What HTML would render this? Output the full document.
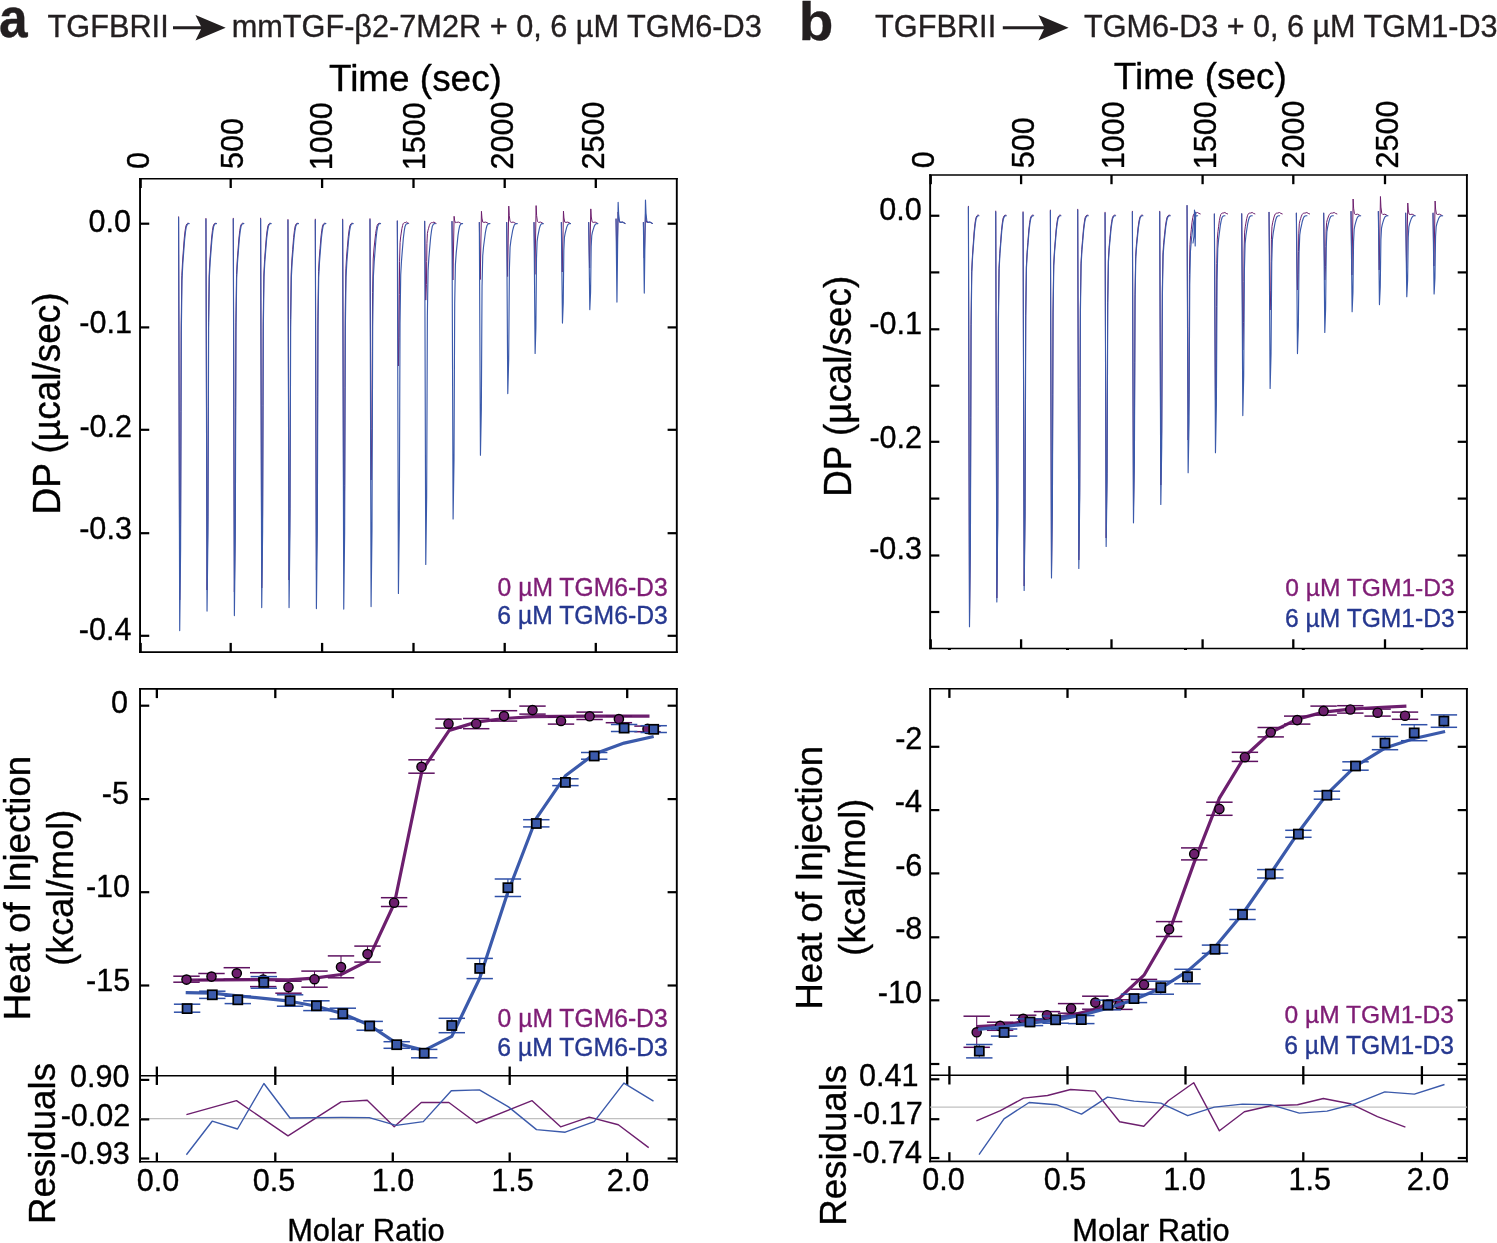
<!DOCTYPE html>
<html lang="en">
<head>
<meta charset="utf-8">
<title>ITC competition binding figure</title>
<style>
html,body{margin:0;padding:0;background:#fff;}
body{width:1497px;height:1243px;overflow:hidden;}
svg{display:block;}
text{font-family:"Liberation Sans",Arial,Helvetica,sans-serif;stroke-width:0.35px;stroke-linejoin:round;}
</style>
</head>
<body>
<svg width="1497" height="1243" viewBox="0 0 1497 1243" font-family="'Liberation Sans', Arial, Helvetica, sans-serif">
<rect width="1497" height="1243" fill="#fff"/>
<text transform="translate(-0.94,37.34) scale(0.97,1.05)" font-size="53" font-weight="bold" fill="#231f20" stroke="#231f20">a</text>
<text transform="translate(47.61,36.9) scale(1,1.03)" font-size="30.7" fill="#231f20" stroke="#231f20">TGFBRII</text>
<text transform="translate(231.63,36.9) scale(1,1.03)" font-size="30.7" fill="#231f20" stroke="#231f20">mmTGF-β2-7M2R + 0, 6 µM TGM6-D3</text>
<text transform="translate(798.71,39.56) scale(1.07,1.01)" font-size="53" font-weight="bold" fill="#231f20" stroke="#231f20">b</text>
<text transform="translate(875.11,36.9) scale(1,1.03)" font-size="30.7" fill="#231f20" stroke="#231f20">TGFBRII</text>
<text transform="translate(1084.11,36.9) scale(1,1.03)" font-size="30.56" fill="#231f20" stroke="#231f20">TGM6-D3 + 0, 6 µM TGM1-D3</text>
<line x1="173" y1="27.7" x2="211.7" y2="27.7" stroke="#231f20" stroke-width="3"/>
<path d="M225.7,27.7 L195.5,14.9 L201.7,27.7 L195.5,40.5 Z" fill="#231f20"/>
<line x1="1002.8" y1="27.7" x2="1054.6" y2="27.7" stroke="#231f20" stroke-width="3"/>
<path d="M1068.6,27.7 L1038.4,14.9 L1044.6,27.7 L1038.4,40.5 Z" fill="#231f20"/>
<text transform="translate(328.97,90.5) scale(1,1)" font-size="36.91" stroke="#000">Time (sec)</text>
<text transform="translate(1113.77,89) scale(1,1)" font-size="36.91" stroke="#000">Time (sec)</text>
<line x1="139.1" y1="178.8" x2="677.75" y2="178.8" stroke="#000" stroke-width="1.6"/>
<line x1="139.1" y1="652.1" x2="677.75" y2="652.1" stroke="#000" stroke-width="1.6"/>
<line x1="140.05" y1="178" x2="140.05" y2="652.9" stroke="#000" stroke-width="1.9"/>
<line x1="676.8" y1="178" x2="676.8" y2="652.9" stroke="#000" stroke-width="1.9"/>
<line x1="140.65" y1="178.8" x2="140.65" y2="188" stroke="#000" stroke-width="2.3"/>
<line x1="140.65" y1="652.1" x2="140.65" y2="642.9" stroke="#000" stroke-width="2.3"/>
<line x1="230.7" y1="178.8" x2="230.7" y2="188" stroke="#000" stroke-width="2.3"/>
<line x1="230.7" y1="652.1" x2="230.7" y2="642.9" stroke="#000" stroke-width="2.3"/>
<line x1="322.1" y1="178.8" x2="322.1" y2="188" stroke="#000" stroke-width="2.3"/>
<line x1="322.1" y1="652.1" x2="322.1" y2="642.9" stroke="#000" stroke-width="2.3"/>
<line x1="413.5" y1="178.8" x2="413.5" y2="188" stroke="#000" stroke-width="2.3"/>
<line x1="413.5" y1="652.1" x2="413.5" y2="642.9" stroke="#000" stroke-width="2.3"/>
<line x1="504.7" y1="178.8" x2="504.7" y2="188" stroke="#000" stroke-width="2.3"/>
<line x1="504.7" y1="652.1" x2="504.7" y2="642.9" stroke="#000" stroke-width="2.3"/>
<line x1="595.8" y1="178.8" x2="595.8" y2="188" stroke="#000" stroke-width="2.3"/>
<line x1="595.8" y1="652.1" x2="595.8" y2="642.9" stroke="#000" stroke-width="2.3"/>
<line x1="140.05" y1="223.7" x2="149.25" y2="223.7" stroke="#000" stroke-width="2.2"/>
<line x1="676.8" y1="223.7" x2="667.6" y2="223.7" stroke="#000" stroke-width="2.2"/>
<line x1="140.05" y1="327.4" x2="149.25" y2="327.4" stroke="#000" stroke-width="2.2"/>
<line x1="676.8" y1="327.4" x2="667.6" y2="327.4" stroke="#000" stroke-width="2.2"/>
<line x1="140.05" y1="429.8" x2="149.25" y2="429.8" stroke="#000" stroke-width="2.2"/>
<line x1="676.8" y1="429.8" x2="667.6" y2="429.8" stroke="#000" stroke-width="2.2"/>
<line x1="140.05" y1="533.2" x2="149.25" y2="533.2" stroke="#000" stroke-width="2.2"/>
<line x1="676.8" y1="533.2" x2="667.6" y2="533.2" stroke="#000" stroke-width="2.2"/>
<line x1="140.05" y1="635.8" x2="149.25" y2="635.8" stroke="#000" stroke-width="2.2"/>
<line x1="676.8" y1="635.8" x2="667.6" y2="635.8" stroke="#000" stroke-width="2.2"/>
<text transform="translate(148.7,169.12) rotate(-90) scale(1,1.03)" font-size="30.6" stroke="#000">0</text>
<text transform="translate(243,169.12) rotate(-90) scale(1,1.03)" font-size="30.6" stroke="#000">500</text>
<text transform="translate(332.2,170.19) rotate(-90) scale(1,1.03)" font-size="30.6" stroke="#000">1000</text>
<text transform="translate(424.8,170.19) rotate(-90) scale(1,1.03)" font-size="30.6" stroke="#000">1500</text>
<text transform="translate(512.9,169.43) rotate(-90) scale(1,1.03)" font-size="30.6" stroke="#000">2000</text>
<text transform="translate(603.7,169.43) rotate(-90) scale(1,1.03)" font-size="30.6" stroke="#000">2500</text>
<text transform="translate(88.61,231.7) scale(1,1.03)" font-size="30.6" stroke="#000">0.0</text>
<text transform="translate(79.34,332.8) scale(1,1.03)" font-size="30.6" stroke="#000">-0.1</text>
<text transform="translate(79.42,436.7) scale(1,1.03)" font-size="30.6" stroke="#000">-0.2</text>
<text transform="translate(79.19,538.6) scale(1,1.03)" font-size="30.6" stroke="#000">-0.3</text>
<text transform="translate(78.73,640) scale(1,1.03)" font-size="30.6" stroke="#000">-0.4</text>
<text transform="translate(60,514.45) rotate(-90) scale(1,1.03)" font-size="37.01" stroke="#000">DP (µcal/sec)</text>
<text transform="translate(497.61,595.6) scale(1,1.01)" font-size="24.69" fill="#7f1d75" stroke="#7f1d75">0 µM TGM6-D3</text>
<text transform="translate(497.36,623.5) scale(1,1.01)" font-size="24.73" fill="#263890" stroke="#263890">6 µM TGM6-D3</text>
<g stroke-linejoin="round" stroke-linecap="round">
<path d="M178.6,216.8 L179.7,600 L180.54,524.66 L180.91,411.65 L181.19,325.01 L181.84,275.66 L182.58,260.97 L183.33,250.8 L184.26,238.37 L185.09,230.83 L185.84,226.2 L186.77,224.05 L187.6,223.3 L188.53,223.3" fill="none" stroke="#6d1f6e" stroke-width="1.0"/>
<path d="M205.94,218.4 L207.04,590 L207.88,516.66 L208.25,406.65 L208.53,322.31 L209.18,274.27 L209.92,259.97 L210.67,250.07 L211.6,237.97 L212.43,230.63 L213.18,226.12 L214.11,224.03 L214.94,223.3 L215.88,223.3" fill="none" stroke="#6d1f6e" stroke-width="1.0"/>
<path d="M233.28,218.3 L234.38,592 L235.22,518.26 L235.59,407.65 L235.87,322.85 L236.52,274.55 L237.26,260.17 L238.01,250.22 L238.94,238.05 L239.77,230.67 L240.52,226.14 L241.45,224.04 L242.28,223.3 L243.22,223.3" fill="none" stroke="#6d1f6e" stroke-width="1.0"/>
<path d="M260.62,218.2 L261.72,588 L262.56,515.06 L262.93,405.65 L263.21,321.77 L263.86,273.99 L264.6,259.77 L265.35,249.92 L266.28,237.89 L267.11,230.59 L267.86,226.11 L268.79,224.03 L269.62,223.3 L270.56,223.3" fill="none" stroke="#6d1f6e" stroke-width="1.0"/>
<path d="M287.96,219.5 L289.06,580 L289.9,508.66 L290.27,401.65 L290.55,319.61 L291.2,272.88 L291.94,258.97 L292.69,249.34 L293.62,237.57 L294.45,230.43 L295.2,226.05 L296.13,224.01 L296.96,223.3 L297.89,223.3" fill="none" stroke="#6d1f6e" stroke-width="1.0"/>
<path d="M315.3,219.2 L316.4,570 L317.24,500.66 L317.61,396.65 L317.89,316.91 L318.54,271.49 L319.28,257.97 L320.03,248.61 L320.96,237.17 L321.79,230.23 L322.54,225.97 L323.47,223.99 L324.3,223.3 L325.23,223.3" fill="none" stroke="#6d1f6e" stroke-width="1.0"/>
<path d="M342.64,219.2 L343.74,551 L344.58,485.46 L344.95,387.15 L345.23,311.78 L345.88,268.85 L346.62,256.07 L347.37,247.22 L348.3,236.41 L349.13,229.85 L349.88,225.82 L350.81,223.96 L351.64,223.3 L352.57,223.3" fill="none" stroke="#6d1f6e" stroke-width="1.0"/>
<path d="M369.98,218.7 L371.08,480 L371.92,428.66 L372.29,351.65 L372.57,292.61 L373.22,258.98 L373.96,248.97 L374.71,242.04 L375.64,233.57 L376.47,228.43 L377.22,225.28 L378.15,223.81 L378.99,223.3 L379.92,223.3" fill="none" stroke="#6d1f6e" stroke-width="1.0"/>
<path d="M397.32,221 L398.42,366 L399.07,337.32 L399.36,294.3 L399.57,261.32 L400.08,242.53 L400.65,236.94 L401.23,233.07 L401.95,228.34 L402.6,225.47 L403.17,223.7 L403.89,222.89 L404.54,222.6 L405.26,222.6 L406.66,222 L407.71,222.9 L408.76,223.4" fill="none" stroke="#6d1f6e" stroke-width="1.0"/>
<path d="M424.66,221.3 L425.76,300.1 L426.41,284.6 L426.7,261.35 L426.91,243.53 L427.42,233.37 L427.99,230.35 L428.57,228.26 L429.29,225.7 L429.94,224.15 L430.51,223.2 L431.23,222.75 L431.88,222.6 L432.6,222.6 L434,222 L435.05,222.9 L436.1,223.4" fill="none" stroke="#6d1f6e" stroke-width="1.0"/>
<path d="M452,221.5 L452.9,280 L454.1,216.3 L454.6,220.31 L455.4,222.72 L456.5,222.4 L458.5,222.1 L461,223.4" fill="none" stroke="#6d1f6e" stroke-width="1.0"/>
<path d="M479.34,222.5 L480.24,279.5 L481.44,211.3 L481.94,218.06 L482.74,222.12 L483.84,222.4 L485.84,222.1 L488.34,223.4" fill="none" stroke="#6d1f6e" stroke-width="1.0"/>
<path d="M506.68,222.5 L507.58,276.5 L508.78,206.1 L509.28,215.72 L510.08,221.5 L511.18,222.4 L513.18,222.1 L515.68,223.4" fill="none" stroke="#6d1f6e" stroke-width="1.0"/>
<path d="M534.02,222.5 L534.92,274.4 L536.12,205.6 L536.62,215.5 L537.42,221.44 L538.52,222.4 L540.52,222.1 L543.02,223.4" fill="none" stroke="#6d1f6e" stroke-width="1.0"/>
<path d="M561.36,222.5 L562.26,272 L563.46,211.1 L563.96,217.97 L564.76,222.1 L565.86,222.4 L567.86,222.1 L570.36,223.4" fill="none" stroke="#6d1f6e" stroke-width="1.0"/>
<path d="M588.7,222.5 L589.6,268 L590.8,208.9 L591.3,216.99 L592.1,221.84 L593.2,222.4 L595.2,222.1 L597.7,223.4" fill="none" stroke="#6d1f6e" stroke-width="1.0"/>
<path d="M616.04,219 L616.94,262 L618.14,212 L618.64,218.38 L619.44,222.21 L620.54,222.4 L622.54,222.1 L625.04,223.4" fill="none" stroke="#6d1f6e" stroke-width="1.0"/>
<path d="M643.38,222.5 L644.28,258 L645.48,214 L645.98,219.28 L646.78,222.45 L647.88,222.4 L649.88,222.1 L652.38,223.4" fill="none" stroke="#6d1f6e" stroke-width="1.0"/>
<path d="M178.6,217.6 L179.7,630.6 L180.6,549.2 L181,427.1 L181.3,333.49 L182,280.17 L182.8,264.3 L183.6,253.31 L184.6,239.88 L185.5,231.74 L186.3,226.73 L187.3,224.41 L188.2,223.6 L189.2,223.6" fill="none" stroke="#3b5aab" stroke-width="1.15"/>
<path d="M205.94,219.2 L207.04,611.1 L207.94,533.6 L208.34,417.35 L208.64,328.23 L209.34,277.46 L210.14,262.35 L210.94,251.89 L211.94,239.1 L212.84,231.35 L213.64,226.58 L214.64,224.38 L215.54,223.6 L216.54,223.6" fill="none" stroke="#3b5aab" stroke-width="1.15"/>
<path d="M233.28,219.1 L234.38,615.6 L235.28,537.2 L235.68,419.6 L235.98,329.44 L236.68,278.09 L237.48,262.8 L238.28,252.22 L239.28,239.28 L240.18,231.44 L240.98,226.62 L241.98,224.38 L242.88,223.6 L243.88,223.6" fill="none" stroke="#3b5aab" stroke-width="1.15"/>
<path d="M260.62,219 L261.72,607.6 L262.62,530.8 L263.02,415.6 L263.32,327.28 L264.02,276.98 L264.82,262 L265.62,251.63 L266.62,238.96 L267.52,231.28 L268.32,226.56 L269.32,224.37 L270.22,223.6 L271.22,223.6" fill="none" stroke="#3b5aab" stroke-width="1.15"/>
<path d="M287.96,220.3 L289.06,607.6 L289.96,530.8 L290.36,415.6 L290.66,327.28 L291.36,276.98 L292.16,262 L292.96,251.63 L293.96,238.96 L294.86,231.28 L295.66,226.56 L296.66,224.37 L297.56,223.6 L298.56,223.6" fill="none" stroke="#3b5aab" stroke-width="1.15"/>
<path d="M315.3,220 L316.4,608.6 L317.3,531.6 L317.7,416.1 L318,327.55 L318.7,277.12 L319.5,262.1 L320.3,251.7 L321.3,239 L322.2,231.3 L323,226.56 L324,224.37 L324.9,223.6 L325.9,223.6" fill="none" stroke="#3b5aab" stroke-width="1.15"/>
<path d="M342.64,220 L343.74,609.1 L344.64,532 L345.04,416.35 L345.34,327.69 L346.04,277.18 L346.84,262.15 L347.64,251.74 L348.64,239.02 L349.54,231.31 L350.34,226.57 L351.34,224.37 L352.24,223.6 L353.24,223.6" fill="none" stroke="#3b5aab" stroke-width="1.15"/>
<path d="M369.98,219.5 L371.08,606.6 L371.98,530 L372.38,415.1 L372.68,327.01 L373.38,276.84 L374.18,261.9 L374.98,251.56 L375.98,238.92 L376.88,231.26 L377.68,226.55 L378.68,224.37 L379.58,223.6 L380.58,223.6" fill="none" stroke="#3b5aab" stroke-width="1.15"/>
<path d="M397.32,221 L398.42,593.5 L399.32,519.52 L399.72,408.55 L400.02,323.47 L400.72,275.02 L401.52,260.59 L402.32,250.6 L403.32,238.4 L404.22,231 L405.02,226.45 L406.02,224.34 L406.92,223.6 L407.92,223.6" fill="none" stroke="#3b5aab" stroke-width="1.15"/>
<path d="M424.66,221.3 L425.76,564.5 L426.66,496.32 L427.06,394.05 L427.36,315.64 L428.06,270.99 L428.86,257.69 L429.66,248.49 L430.66,237.24 L431.56,230.42 L432.36,226.22 L433.36,224.28 L434.26,223.6 L435.26,223.6" fill="none" stroke="#3b5aab" stroke-width="1.15"/>
<path d="M452,221.5 L453.1,518.9 L454,459.84 L454.4,371.25 L454.7,303.33 L455.4,264.65 L456.2,253.13 L457,245.16 L458,235.41 L458.9,229.51 L459.7,225.87 L460.7,224.19 L461.6,223.6 L462.6,223.6" fill="none" stroke="#3b5aab" stroke-width="1.15"/>
<path d="M479.34,222.5 L480.44,455.3 L481.34,408.96 L481.74,339.45 L482.04,286.16 L482.74,255.81 L483.54,246.77 L484.34,240.51 L485.34,232.87 L486.24,228.23 L487.04,225.38 L488.04,224.06 L488.94,223.6 L489.94,223.6" fill="none" stroke="#3b5aab" stroke-width="1.15"/>
<path d="M506.68,222.5 L507.78,393.6 L508.68,359.6 L509.08,308.6 L509.38,269.5 L510.08,247.23 L510.88,240.6 L511.68,236.01 L512.68,230.4 L513.58,227 L514.38,224.91 L515.38,223.94 L516.28,223.6 L517.28,223.6" fill="none" stroke="#3b5aab" stroke-width="1.15"/>
<path d="M534.02,222.5 L535.12,353.5 L535.88,327.52 L536.23,288.55 L536.48,258.67 L537.08,241.66 L537.75,236.59 L538.44,233.08 L539.28,228.8 L540.05,226.2 L540.73,224.6 L541.58,223.86 L542.35,223.6 L543.2,223.6" fill="none" stroke="#3b5aab" stroke-width="1.15"/>
<path d="M561.36,222.5 L562.46,323.1 L563.23,303.2 L563.57,273.35 L563.82,250.47 L564.42,237.43 L565.1,233.55 L565.78,230.86 L566.62,227.58 L567.39,225.59 L568.07,224.37 L568.92,223.8 L569.69,223.6 L570.54,223.6" fill="none" stroke="#3b5aab" stroke-width="1.15"/>
<path d="M588.7,222.5 L589.8,309.6 L590.57,292.4 L590.91,266.6 L591.16,246.82 L591.76,235.55 L592.44,232.2 L593.12,229.88 L593.97,227.04 L594.73,225.32 L595.41,224.26 L596.26,223.77 L597.03,223.6 L597.88,223.6" fill="none" stroke="#3b5aab" stroke-width="1.15"/>
<path d="M616.04,219 L616.94,302.1 L618.14,202.3 L618.64,214.02 L619.44,221.04 L620.54,222.4 L622.54,222.1 L625.04,223.4" fill="none" stroke="#3b5aab" stroke-width="1.15"/>
<path d="M643.38,222.5 L644.28,293.1 L645.48,200.1 L645.98,213.03 L646.78,220.78 L647.88,222.4 L649.88,222.1 L652.38,223.4" fill="none" stroke="#3b5aab" stroke-width="1.15"/>
</g>
<line x1="929.2" y1="175" x2="1467.85" y2="175" stroke="#000" stroke-width="1.6"/>
<line x1="929.2" y1="648.5" x2="1467.85" y2="648.5" stroke="#000" stroke-width="1.6"/>
<line x1="930.15" y1="174.2" x2="930.15" y2="649.3" stroke="#000" stroke-width="1.9"/>
<line x1="1466.9" y1="174.2" x2="1466.9" y2="649.3" stroke="#000" stroke-width="1.9"/>
<line x1="930.75" y1="175" x2="930.75" y2="184.2" stroke="#000" stroke-width="2.3"/>
<line x1="930.75" y1="648.5" x2="930.75" y2="639.3" stroke="#000" stroke-width="2.3"/>
<line x1="1021.1" y1="175" x2="1021.1" y2="184.2" stroke="#000" stroke-width="2.3"/>
<line x1="1021.1" y1="648.5" x2="1021.1" y2="639.3" stroke="#000" stroke-width="2.3"/>
<line x1="1111.5" y1="175" x2="1111.5" y2="184.2" stroke="#000" stroke-width="2.3"/>
<line x1="1111.5" y1="648.5" x2="1111.5" y2="639.3" stroke="#000" stroke-width="2.3"/>
<line x1="1202.6" y1="175" x2="1202.6" y2="184.2" stroke="#000" stroke-width="2.3"/>
<line x1="1202.6" y1="648.5" x2="1202.6" y2="639.3" stroke="#000" stroke-width="2.3"/>
<line x1="1293.3" y1="175" x2="1293.3" y2="184.2" stroke="#000" stroke-width="2.3"/>
<line x1="1293.3" y1="648.5" x2="1293.3" y2="639.3" stroke="#000" stroke-width="2.3"/>
<line x1="1385" y1="175" x2="1385" y2="184.2" stroke="#000" stroke-width="2.3"/>
<line x1="1385" y1="648.5" x2="1385" y2="639.3" stroke="#000" stroke-width="2.3"/>
<line x1="930.15" y1="215.75" x2="939.35" y2="215.75" stroke="#000" stroke-width="2.2"/>
<line x1="1466.9" y1="215.75" x2="1457.7" y2="215.75" stroke="#000" stroke-width="2.2"/>
<line x1="930.15" y1="272.4" x2="939.35" y2="272.4" stroke="#000" stroke-width="2.2"/>
<line x1="1466.9" y1="272.4" x2="1457.7" y2="272.4" stroke="#000" stroke-width="2.2"/>
<line x1="930.15" y1="329.3" x2="939.35" y2="329.3" stroke="#000" stroke-width="2.2"/>
<line x1="1466.9" y1="329.3" x2="1457.7" y2="329.3" stroke="#000" stroke-width="2.2"/>
<line x1="930.15" y1="385.7" x2="939.35" y2="385.7" stroke="#000" stroke-width="2.2"/>
<line x1="1466.9" y1="385.7" x2="1457.7" y2="385.7" stroke="#000" stroke-width="2.2"/>
<line x1="930.15" y1="441.8" x2="939.35" y2="441.8" stroke="#000" stroke-width="2.2"/>
<line x1="1466.9" y1="441.8" x2="1457.7" y2="441.8" stroke="#000" stroke-width="2.2"/>
<line x1="930.15" y1="498.6" x2="939.35" y2="498.6" stroke="#000" stroke-width="2.2"/>
<line x1="1466.9" y1="498.6" x2="1457.7" y2="498.6" stroke="#000" stroke-width="2.2"/>
<line x1="930.15" y1="555.5" x2="939.35" y2="555.5" stroke="#000" stroke-width="2.2"/>
<line x1="1466.9" y1="555.5" x2="1457.7" y2="555.5" stroke="#000" stroke-width="2.2"/>
<line x1="930.15" y1="612" x2="939.35" y2="612" stroke="#000" stroke-width="2.2"/>
<line x1="1466.9" y1="612" x2="1457.7" y2="612" stroke="#000" stroke-width="2.2"/>
<line x1="947.9" y1="649.4" x2="950.9" y2="649.4" stroke="#000" stroke-width="1.2"/>
<line x1="1066" y1="649.4" x2="1069" y2="649.4" stroke="#000" stroke-width="1.2"/>
<line x1="1184" y1="649.4" x2="1187" y2="649.4" stroke="#000" stroke-width="1.2"/>
<line x1="1301.8" y1="649.4" x2="1304.8" y2="649.4" stroke="#000" stroke-width="1.2"/>
<line x1="1420.4" y1="649.4" x2="1423.4" y2="649.4" stroke="#000" stroke-width="1.2"/>
<text transform="translate(933.8,168.22) rotate(-90) scale(1,1.03)" font-size="30.6" stroke="#000">0</text>
<text transform="translate(1033.8,168.22) rotate(-90) scale(1,1.03)" font-size="30.6" stroke="#000">500</text>
<text transform="translate(1123.6,169.29) rotate(-90) scale(1,1.03)" font-size="30.6" stroke="#000">1000</text>
<text transform="translate(1216,169.29) rotate(-90) scale(1,1.03)" font-size="30.6" stroke="#000">1500</text>
<text transform="translate(1303.7,168.53) rotate(-90) scale(1,1.03)" font-size="30.6" stroke="#000">2000</text>
<text transform="translate(1398.4,168.53) rotate(-90) scale(1,1.03)" font-size="30.6" stroke="#000">2500</text>
<text transform="translate(879.21,220.1) scale(1,1.03)" font-size="30.6" stroke="#000">0.0</text>
<text transform="translate(869.35,333.9) scale(1,1.03)" font-size="30.6" stroke="#000">-0.1</text>
<text transform="translate(869.42,447.7) scale(1,1.03)" font-size="30.6" stroke="#000">-0.2</text>
<text transform="translate(869.19,559.2) scale(1,1.03)" font-size="30.6" stroke="#000">-0.3</text>
<text transform="translate(851,496.74) rotate(-90) scale(1,1.03)" font-size="36.81" stroke="#000">DP (µcal/sec)</text>
<text transform="translate(1285.32,595.6) scale(1,1.01)" font-size="24.58" fill="#7f1d75" stroke="#7f1d75">0 µM TGM1-D3</text>
<text transform="translate(1285.07,626.7) scale(1,1.01)" font-size="24.61" fill="#263890" stroke="#263890">6 µM TGM1-D3</text>
<g stroke-linejoin="round" stroke-linecap="round">
<path d="M968.4,206.3 L969.5,620 L970.36,539.04 L970.74,417.6 L971.02,324.5 L971.68,271.47 L972.45,255.68 L973.21,244.75 L974.15,231.39 L975.01,223.3 L975.77,218.32 L976.72,216.01 L977.58,215.2 L978.52,215.2" fill="none" stroke="#6d1f6e" stroke-width="1.0"/>
<path d="M995.73,211.1 L996.83,598 L997.69,521.44 L998.07,406.6 L998.35,318.56 L999.01,268.41 L999.78,253.48 L1000.54,243.14 L1001.49,230.51 L1002.34,222.86 L1003.1,218.15 L1004.05,215.97 L1004.91,215.2 L1005.86,215.2" fill="none" stroke="#6d1f6e" stroke-width="1.0"/>
<path d="M1023.06,211.8 L1024.16,586 L1025.01,511.84 L1025.39,400.6 L1025.68,315.32 L1026.34,266.74 L1027.1,252.28 L1027.86,242.27 L1028.81,230.03 L1029.67,222.62 L1030.43,218.06 L1031.38,215.94 L1032.23,215.2 L1033.18,215.2" fill="none" stroke="#6d1f6e" stroke-width="1.0"/>
<path d="M1050.39,210.1 L1051.49,574 L1052.34,502.24 L1052.72,394.6 L1053.01,312.08 L1053.67,265.07 L1054.43,251.08 L1055.19,241.39 L1056.14,229.55 L1057,222.38 L1057.76,217.96 L1058.71,215.92 L1059.56,215.2 L1060.51,215.2" fill="none" stroke="#6d1f6e" stroke-width="1.0"/>
<path d="M1077.72,209.3 L1078.82,560 L1079.67,491.04 L1080.05,387.6 L1080.34,308.3 L1081,263.13 L1081.76,249.68 L1082.52,240.37 L1083.47,228.99 L1084.33,222.1 L1085.09,217.85 L1086.04,215.89 L1086.89,215.2 L1087.85,215.2" fill="none" stroke="#6d1f6e" stroke-width="1.0"/>
<path d="M1105.05,212.3 L1106.15,538 L1107,473.44 L1107.38,376.6 L1107.67,302.36 L1108.33,260.07 L1109.09,247.48 L1109.85,238.76 L1110.8,228.11 L1111.66,221.66 L1112.42,217.69 L1113.37,215.85 L1114.22,215.2 L1115.17,215.2" fill="none" stroke="#6d1f6e" stroke-width="1.0"/>
<path d="M1132.38,211.3 L1133.48,510 L1134.33,451.04 L1134.71,362.6 L1135,294.8 L1135.66,256.18 L1136.42,244.68 L1137.18,236.72 L1138.13,226.99 L1138.99,221.1 L1139.75,217.47 L1140.7,215.79 L1141.55,215.2 L1142.5,215.2" fill="none" stroke="#6d1f6e" stroke-width="1.0"/>
<path d="M1159.71,211.3 L1160.81,485 L1161.66,431.04 L1162.04,350.1 L1162.33,288.05 L1162.99,252.7 L1163.75,242.18 L1164.51,234.9 L1165.46,225.99 L1166.32,220.6 L1167.08,217.28 L1168.03,215.74 L1168.88,215.2 L1169.84,215.2" fill="none" stroke="#6d1f6e" stroke-width="1.0"/>
<path d="M1187.04,205.6 L1188.14,440 L1188.86,394.62 L1189.18,326.55 L1189.42,274.36 L1189.98,244.64 L1190.62,235.79 L1191.26,229.66 L1192.06,222.18 L1192.78,217.64 L1193.42,214.85 L1194.22,213.55 L1194.94,213.1 L1195.74,213.1 L1197.54,212.5 L1198.89,213.4 L1200.24,213.9" fill="none" stroke="#6d1f6e" stroke-width="1.0"/>
<path d="M1214.37,214 L1215.47,400 L1216.19,362.62 L1216.51,306.55 L1216.75,263.56 L1217.31,239.08 L1217.95,231.79 L1218.59,226.74 L1219.39,220.58 L1220.11,216.84 L1220.75,214.54 L1221.55,213.47 L1222.27,213.1 L1223.07,213.1 L1224.87,212.5 L1226.22,213.4 L1227.57,213.9" fill="none" stroke="#6d1f6e" stroke-width="1.0"/>
<path d="M1241.7,213.8 L1242.8,350 L1243.52,322.62 L1243.84,281.55 L1244.08,250.06 L1244.64,232.13 L1245.28,226.79 L1245.92,223.09 L1246.72,218.58 L1247.44,215.84 L1248.08,214.15 L1248.88,213.37 L1249.6,213.1 L1250.4,213.1 L1252.2,212.5 L1253.55,213.4 L1254.9,213.9" fill="none" stroke="#6d1f6e" stroke-width="1.0"/>
<path d="M1269.03,212.4 L1270.13,310 L1270.85,290.62 L1271.17,261.55 L1271.41,239.26 L1271.97,226.57 L1272.61,222.79 L1273.25,220.17 L1274.05,216.98 L1274.77,215.04 L1275.41,213.85 L1276.21,213.29 L1276.93,213.1 L1277.73,213.1 L1279.53,212.5 L1280.88,213.4 L1282.23,213.9" fill="none" stroke="#6d1f6e" stroke-width="1.0"/>
<path d="M1296.36,213.2 L1297.46,290 L1298.18,274.62 L1298.5,251.55 L1298.74,233.86 L1299.3,223.79 L1299.94,220.79 L1300.58,218.71 L1301.38,216.18 L1302.1,214.64 L1302.74,213.69 L1303.54,213.25 L1304.26,213.1 L1305.06,213.1 L1306.86,212.5 L1308.21,213.4 L1309.56,213.9" fill="none" stroke="#6d1f6e" stroke-width="1.0"/>
<path d="M1323.69,213.2 L1324.79,280 L1325.51,266.62 L1325.83,246.55 L1326.07,231.16 L1326.63,222.4 L1327.27,219.79 L1327.91,217.98 L1328.71,215.78 L1329.43,214.44 L1330.07,213.62 L1330.87,213.23 L1331.59,213.1 L1332.39,213.1 L1334.19,212.5 L1335.54,213.4 L1336.89,213.9" fill="none" stroke="#6d1f6e" stroke-width="1.0"/>
<path d="M1351.02,211.5 L1351.92,275 L1353.12,199 L1353.62,208.19 L1354.42,213.7 L1355.52,214.5 L1357.52,214.2 L1360.02,215.5" fill="none" stroke="#6d1f6e" stroke-width="1.0"/>
<path d="M1378.35,211.5 L1379.25,270 L1380.45,196.5 L1380.95,207.06 L1381.75,213.4 L1382.85,214.5 L1384.85,214.2 L1387.35,215.5" fill="none" stroke="#6d1f6e" stroke-width="1.0"/>
<path d="M1405.68,213.2 L1406.58,268 L1407.78,203 L1408.28,209.98 L1409.08,214.18 L1410.18,214.5 L1412.18,214.2 L1414.68,215.5" fill="none" stroke="#6d1f6e" stroke-width="1.0"/>
<path d="M1433.01,213.2 L1433.91,266 L1435.11,201 L1435.61,209.08 L1436.41,213.94 L1437.51,214.5 L1439.51,214.2 L1442.01,215.5" fill="none" stroke="#6d1f6e" stroke-width="1.0"/>
<path d="M968.4,207.1 L969.5,626.7 L970.4,544.5 L970.8,421.2 L971.1,326.67 L971.8,272.83 L972.6,256.8 L973.4,245.7 L974.4,232.14 L975.3,223.92 L976.1,218.86 L977.1,216.52 L978,215.7 L979,215.7" fill="none" stroke="#3b5aab" stroke-width="1.15"/>
<path d="M995.73,211.9 L996.83,602 L997.73,524.74 L998.13,408.85 L998.43,320 L999.13,269.4 L999.93,254.33 L1000.73,243.9 L1001.73,231.15 L1002.63,223.43 L1003.43,218.67 L1004.43,216.47 L1005.33,215.7 L1006.33,215.7" fill="none" stroke="#3b5aab" stroke-width="1.15"/>
<path d="M1023.06,212.6 L1024.16,590.5 L1025.06,515.54 L1025.46,403.1 L1025.76,316.9 L1026.46,267.8 L1027.26,253.18 L1028.06,243.06 L1029.06,230.69 L1029.96,223.2 L1030.76,218.59 L1031.76,216.45 L1032.66,215.7 L1033.66,215.7" fill="none" stroke="#3b5aab" stroke-width="1.15"/>
<path d="M1050.39,210.9 L1051.49,577.9 L1052.39,505.46 L1052.79,396.8 L1053.09,313.49 L1053.79,266.05 L1054.59,251.92 L1055.39,242.14 L1056.39,230.19 L1057.29,222.94 L1058.09,218.49 L1059.09,216.42 L1059.99,215.7 L1060.99,215.7" fill="none" stroke="#3b5aab" stroke-width="1.15"/>
<path d="M1077.72,210.1 L1078.82,568.4 L1079.72,497.86 L1080.12,392.05 L1080.42,310.93 L1081.12,264.73 L1081.92,250.97 L1082.72,241.45 L1083.72,229.81 L1084.62,222.75 L1085.42,218.42 L1086.42,216.41 L1087.32,215.7 L1088.32,215.7" fill="none" stroke="#3b5aab" stroke-width="1.15"/>
<path d="M1105.05,213.1 L1106.15,546.5 L1107.05,480.34 L1107.45,381.1 L1107.75,305.02 L1108.45,261.68 L1109.25,248.78 L1110.05,239.85 L1111.05,228.93 L1111.95,222.32 L1112.75,218.25 L1113.75,216.36 L1114.65,215.7 L1115.65,215.7" fill="none" stroke="#3b5aab" stroke-width="1.15"/>
<path d="M1132.38,212.1 L1133.48,522.8 L1134.38,461.38 L1134.78,369.25 L1135.08,298.62 L1135.78,258.39 L1136.58,246.41 L1137.38,238.12 L1138.38,227.98 L1139.28,221.84 L1140.08,218.06 L1141.08,216.31 L1141.98,215.7 L1142.98,215.7" fill="none" stroke="#3b5aab" stroke-width="1.15"/>
<path d="M1159.71,212.1 L1160.81,504.5 L1161.71,446.74 L1162.11,360.1 L1162.41,293.68 L1163.11,255.84 L1163.91,244.58 L1164.71,236.78 L1165.71,227.25 L1166.61,221.48 L1167.41,217.92 L1168.41,216.28 L1169.31,215.7 L1170.31,215.7" fill="none" stroke="#3b5aab" stroke-width="1.15"/>
<path d="M1187.04,205.6 L1188.14,472.7 L1189.04,421.3 L1189.44,344.2 L1189.74,285.09 L1190.44,251.42 L1191.24,241.4 L1192.04,234.46 L1193.04,225.98 L1193.94,220.84 L1194.74,217.68 L1195.74,216.21 L1196.64,215.7 L1197.64,215.7" fill="none" stroke="#3b5aab" stroke-width="1.15"/>
<path d="M1214.37,214 L1215.47,452.7 L1216.37,405.3 L1216.77,334.2 L1217.07,279.69 L1217.77,248.64 L1218.57,239.4 L1219.37,233 L1220.37,225.18 L1221.27,220.44 L1222.07,217.52 L1223.07,216.17 L1223.97,215.7 L1224.97,215.7" fill="none" stroke="#3b5aab" stroke-width="1.15"/>
<path d="M1241.7,213.8 L1242.8,415.6 L1243.7,375.62 L1244.1,315.65 L1244.4,269.67 L1245.1,243.49 L1245.9,235.69 L1246.7,230.29 L1247.7,223.7 L1248.6,219.7 L1249.4,217.24 L1250.4,216.1 L1251.3,215.7 L1252.3,215.7" fill="none" stroke="#3b5aab" stroke-width="1.15"/>
<path d="M1269.03,212.4 L1270.13,388.5 L1271.03,353.94 L1271.43,302.1 L1271.73,262.36 L1272.43,239.72 L1273.23,232.98 L1274.03,228.31 L1275.03,222.61 L1275.93,219.16 L1276.73,217.03 L1277.73,216.05 L1278.63,215.7 L1279.63,215.7" fill="none" stroke="#3b5aab" stroke-width="1.15"/>
<path d="M1296.36,213.2 L1297.46,353.6 L1298.36,326.02 L1298.76,284.65 L1299.06,252.93 L1299.76,234.87 L1300.56,229.49 L1301.36,225.77 L1302.36,221.22 L1303.26,218.46 L1304.06,216.76 L1305.06,215.98 L1305.96,215.7 L1306.96,215.7" fill="none" stroke="#3b5aab" stroke-width="1.15"/>
<path d="M1323.69,213.2 L1324.79,332.5 L1325.6,309.14 L1325.96,274.1 L1326.23,247.24 L1326.86,231.94 L1327.58,227.38 L1328.3,224.23 L1329.2,220.37 L1330.01,218.04 L1330.73,216.6 L1331.63,215.93 L1332.44,215.7 L1333.34,215.7" fill="none" stroke="#3b5aab" stroke-width="1.15"/>
<path d="M1351.02,211.5 L1352.12,311.7 L1352.93,292.5 L1353.29,263.7 L1353.56,241.62 L1354.19,229.04 L1354.91,225.3 L1355.63,222.71 L1356.53,219.54 L1357.34,217.62 L1358.06,216.44 L1358.96,215.89 L1359.77,215.7 L1360.67,215.7" fill="none" stroke="#3b5aab" stroke-width="1.15"/>
<path d="M1378.35,211.5 L1379.45,304.6 L1380.26,286.82 L1380.62,260.15 L1380.89,239.7 L1381.52,228.06 L1382.24,224.59 L1382.96,222.19 L1383.86,219.26 L1384.67,217.48 L1385.39,216.38 L1386.29,215.88 L1387.1,215.7 L1388,215.7" fill="none" stroke="#3b5aab" stroke-width="1.15"/>
<path d="M1405.68,213.2 L1406.78,296.7 L1407.59,280.5 L1407.95,256.2 L1408.22,237.57 L1408.85,226.96 L1409.57,223.8 L1410.29,221.61 L1411.19,218.94 L1412,217.32 L1412.72,216.32 L1413.62,215.86 L1414.43,215.7 L1415.33,215.7" fill="none" stroke="#3b5aab" stroke-width="1.15"/>
<path d="M1433.01,213.2 L1434.11,293.9 L1434.92,278.26 L1435.28,254.8 L1435.55,236.81 L1436.18,226.57 L1436.9,223.52 L1437.62,221.41 L1438.52,218.83 L1439.33,217.26 L1440.05,216.3 L1440.95,215.86 L1441.76,215.7 L1442.66,215.7" fill="none" stroke="#3b5aab" stroke-width="1.15"/>
<path d="M1193,243 L1194,236 L1194.5,210 L1195.2,246 L1195.7,212" fill="none" stroke="#3b5aab" stroke-width="1.15"/>
</g>
<line x1="139.1" y1="688.9" x2="677.75" y2="688.9" stroke="#000" stroke-width="1.6"/>
<line x1="139.1" y1="1161.7" x2="677.75" y2="1161.7" stroke="#000" stroke-width="1.6"/>
<line x1="140.05" y1="688.1" x2="140.05" y2="1162.5" stroke="#000" stroke-width="1.9"/>
<line x1="676.8" y1="688.1" x2="676.8" y2="1162.5" stroke="#000" stroke-width="1.9"/>
<line x1="140.05" y1="1118.6" x2="676.8" y2="1118.6" stroke="#c0c0c0" stroke-width="1.3"/>
<line x1="140.05" y1="1075.75" x2="676.8" y2="1075.75" stroke="#000" stroke-width="1.6"/>
<line x1="156.85" y1="688.9" x2="156.85" y2="698.1" stroke="#000" stroke-width="2.3"/>
<line x1="156.85" y1="1066.55" x2="156.85" y2="1084.95" stroke="#000" stroke-width="2.3"/>
<line x1="156.85" y1="1161.7" x2="156.85" y2="1152.5" stroke="#000" stroke-width="2.3"/>
<line x1="275.3" y1="688.9" x2="275.3" y2="698.1" stroke="#000" stroke-width="2.3"/>
<line x1="275.3" y1="1066.55" x2="275.3" y2="1084.95" stroke="#000" stroke-width="2.3"/>
<line x1="275.3" y1="1161.7" x2="275.3" y2="1152.5" stroke="#000" stroke-width="2.3"/>
<line x1="392.8" y1="688.9" x2="392.8" y2="698.1" stroke="#000" stroke-width="2.3"/>
<line x1="392.8" y1="1066.55" x2="392.8" y2="1084.95" stroke="#000" stroke-width="2.3"/>
<line x1="392.8" y1="1161.7" x2="392.8" y2="1152.5" stroke="#000" stroke-width="2.3"/>
<line x1="509.7" y1="688.9" x2="509.7" y2="698.1" stroke="#000" stroke-width="2.3"/>
<line x1="509.7" y1="1066.55" x2="509.7" y2="1084.95" stroke="#000" stroke-width="2.3"/>
<line x1="509.7" y1="1161.7" x2="509.7" y2="1152.5" stroke="#000" stroke-width="2.3"/>
<line x1="627.2" y1="688.9" x2="627.2" y2="698.1" stroke="#000" stroke-width="2.3"/>
<line x1="627.2" y1="1066.55" x2="627.2" y2="1084.95" stroke="#000" stroke-width="2.3"/>
<line x1="627.2" y1="1161.7" x2="627.2" y2="1152.5" stroke="#000" stroke-width="2.3"/>
<line x1="140.05" y1="705.7" x2="149.25" y2="705.7" stroke="#000" stroke-width="2.2"/>
<line x1="676.8" y1="705.7" x2="667.6" y2="705.7" stroke="#000" stroke-width="2.2"/>
<line x1="140.05" y1="799.1" x2="149.25" y2="799.1" stroke="#000" stroke-width="2.2"/>
<line x1="676.8" y1="799.1" x2="667.6" y2="799.1" stroke="#000" stroke-width="2.2"/>
<line x1="140.05" y1="892.2" x2="149.25" y2="892.2" stroke="#000" stroke-width="2.2"/>
<line x1="676.8" y1="892.2" x2="667.6" y2="892.2" stroke="#000" stroke-width="2.2"/>
<line x1="140.05" y1="985.5" x2="149.25" y2="985.5" stroke="#000" stroke-width="2.2"/>
<line x1="676.8" y1="985.5" x2="667.6" y2="985.5" stroke="#000" stroke-width="2.2"/>
<line x1="140.05" y1="1079.9" x2="149.25" y2="1079.9" stroke="#000" stroke-width="2.2"/>
<line x1="676.8" y1="1079.9" x2="667.6" y2="1079.9" stroke="#000" stroke-width="2.2"/>
<line x1="140.05" y1="1119.4" x2="149.25" y2="1119.4" stroke="#000" stroke-width="2.2"/>
<line x1="676.8" y1="1119.4" x2="667.6" y2="1119.4" stroke="#000" stroke-width="2.2"/>
<line x1="140.05" y1="1158.5" x2="149.25" y2="1158.5" stroke="#000" stroke-width="2.2"/>
<line x1="676.8" y1="1158.5" x2="667.6" y2="1158.5" stroke="#000" stroke-width="2.2"/>
<text transform="translate(111.06,713.2) scale(1,1.03)" font-size="30.6" stroke="#000">0</text>
<text transform="translate(101.77,804.1) scale(1,1.03)" font-size="30.6" stroke="#000">-5</text>
<text transform="translate(85.93,897.1) scale(1,1.03)" font-size="30.6" stroke="#000">-10</text>
<text transform="translate(86.01,991.1) scale(1,1.03)" font-size="30.6" stroke="#000">-15</text>
<text transform="translate(69.93,1087.1) scale(1,1.03)" font-size="30.6" stroke="#000">0.90</text>
<text transform="translate(60.64,1126) scale(1,1.03)" font-size="30.6" stroke="#000">-0.02</text>
<text transform="translate(60.11,1164.1) scale(1,1.03)" font-size="30.6" stroke="#000">-0.93</text>
<text transform="translate(136.69,1190.9) scale(1,1.03)" font-size="30.6" stroke="#000">0.0</text>
<text transform="translate(252.63,1190.9) scale(1,1.03)" font-size="30.6" stroke="#000">0.5</text>
<text transform="translate(371.86,1190.9) scale(1,1.03)" font-size="30.6" stroke="#000">1.0</text>
<text transform="translate(491.25,1190.9) scale(1,1.03)" font-size="30.6" stroke="#000">1.5</text>
<text transform="translate(606.79,1190.9) scale(1,1.03)" font-size="30.6" stroke="#000">2.0</text>
<text transform="translate(287.16,1241) scale(1,1)" font-size="30.82" stroke="#000">Molar Ratio</text>
<text transform="translate(29.5,1020.32) rotate(-90) scale(1,1.03)" font-size="36.61" stroke="#000">Heat of Injection</text>
<text transform="translate(73.2,965.65) rotate(-90) scale(1,1.03)" font-size="35.96" stroke="#000">(kcal/mol)</text>
<text transform="translate(54.9,1224.03) rotate(-90) scale(1,1.03)" font-size="36.68" stroke="#000">Residuals</text>
<text transform="translate(497.61,1027.4) scale(1,1.01)" font-size="24.69" fill="#7f1d75" stroke="#7f1d75">0 µM TGM6-D3</text>
<text transform="translate(497.36,1056.3) scale(1,1.01)" font-size="24.73" fill="#263890" stroke="#263890">6 µM TGM6-D3</text>
<g stroke-linejoin="round">
<path d="M186.5,980.2 L263.2,979.6 L288.5,979.8 L314.5,978.2 L341,974.5 L367.5,961.1 L394.5,903 L422,770.6 L449.2,730.4 L476.2,722.1 L504,718.5 L532.5,716.7 L589.6,716.2 L649.5,716.1" fill="none" stroke="#6d1f6e" stroke-width="3.2"/>
<line x1="186.5" y1="976.2" x2="186.5" y2="982.2" stroke="#5e1160" stroke-width="1.1"/>
<line x1="173.3" y1="976.2" x2="199.7" y2="976.2" stroke="#5e1160" stroke-width="1.5"/>
<line x1="173.3" y1="982.2" x2="199.7" y2="982.2" stroke="#5e1160" stroke-width="1.5"/>
<line x1="211.5" y1="973.5" x2="211.5" y2="979.8" stroke="#5e1160" stroke-width="1.1"/>
<line x1="198.3" y1="973.5" x2="224.7" y2="973.5" stroke="#5e1160" stroke-width="1.5"/>
<line x1="198.3" y1="979.8" x2="224.7" y2="979.8" stroke="#5e1160" stroke-width="1.5"/>
<line x1="236.8" y1="967.7" x2="236.8" y2="979.2" stroke="#5e1160" stroke-width="1.1"/>
<line x1="223.6" y1="967.7" x2="250" y2="967.7" stroke="#5e1160" stroke-width="1.5"/>
<line x1="223.6" y1="979.2" x2="250" y2="979.2" stroke="#5e1160" stroke-width="1.5"/>
<line x1="263.2" y1="972.7" x2="263.2" y2="986.6" stroke="#5e1160" stroke-width="1.1"/>
<line x1="250" y1="972.7" x2="276.4" y2="972.7" stroke="#5e1160" stroke-width="1.5"/>
<line x1="250" y1="986.6" x2="276.4" y2="986.6" stroke="#5e1160" stroke-width="1.5"/>
<line x1="288.5" y1="981.2" x2="288.5" y2="993.2" stroke="#5e1160" stroke-width="1.1"/>
<line x1="275.3" y1="981.2" x2="301.7" y2="981.2" stroke="#5e1160" stroke-width="1.5"/>
<line x1="275.3" y1="993.2" x2="301.7" y2="993.2" stroke="#5e1160" stroke-width="1.5"/>
<line x1="314.5" y1="971.1" x2="314.5" y2="987.2" stroke="#5e1160" stroke-width="1.1"/>
<line x1="301.3" y1="971.1" x2="327.7" y2="971.1" stroke="#5e1160" stroke-width="1.5"/>
<line x1="301.3" y1="987.2" x2="327.7" y2="987.2" stroke="#5e1160" stroke-width="1.5"/>
<line x1="341" y1="955.9" x2="341" y2="977.8" stroke="#5e1160" stroke-width="1.1"/>
<line x1="327.8" y1="955.9" x2="354.2" y2="955.9" stroke="#5e1160" stroke-width="1.5"/>
<line x1="327.8" y1="977.8" x2="354.2" y2="977.8" stroke="#5e1160" stroke-width="1.5"/>
<line x1="367.5" y1="946.1" x2="367.5" y2="962.1" stroke="#5e1160" stroke-width="1.1"/>
<line x1="354.3" y1="946.1" x2="380.7" y2="946.1" stroke="#5e1160" stroke-width="1.5"/>
<line x1="354.3" y1="962.1" x2="380.7" y2="962.1" stroke="#5e1160" stroke-width="1.5"/>
<line x1="394.1" y1="897.7" x2="394.1" y2="906.5" stroke="#5e1160" stroke-width="1.1"/>
<line x1="380.9" y1="897.7" x2="407.3" y2="897.7" stroke="#5e1160" stroke-width="1.5"/>
<line x1="380.9" y1="906.5" x2="407.3" y2="906.5" stroke="#5e1160" stroke-width="1.5"/>
<line x1="421.5" y1="759.8" x2="421.5" y2="773.2" stroke="#5e1160" stroke-width="1.1"/>
<line x1="408.3" y1="759.8" x2="434.7" y2="759.8" stroke="#5e1160" stroke-width="1.5"/>
<line x1="408.3" y1="773.2" x2="434.7" y2="773.2" stroke="#5e1160" stroke-width="1.5"/>
<line x1="448.5" y1="719.1" x2="448.5" y2="728.1" stroke="#5e1160" stroke-width="1.1"/>
<line x1="435.3" y1="719.1" x2="461.7" y2="719.1" stroke="#5e1160" stroke-width="1.5"/>
<line x1="435.3" y1="728.1" x2="461.7" y2="728.1" stroke="#5e1160" stroke-width="1.5"/>
<line x1="476.2" y1="718.5" x2="476.2" y2="728.7" stroke="#5e1160" stroke-width="1.1"/>
<line x1="463" y1="718.5" x2="489.4" y2="718.5" stroke="#5e1160" stroke-width="1.5"/>
<line x1="463" y1="728.7" x2="489.4" y2="728.7" stroke="#5e1160" stroke-width="1.5"/>
<line x1="504" y1="710.7" x2="504" y2="721.1" stroke="#5e1160" stroke-width="1.1"/>
<line x1="490.8" y1="710.7" x2="517.2" y2="710.7" stroke="#5e1160" stroke-width="1.5"/>
<line x1="490.8" y1="721.1" x2="517.2" y2="721.1" stroke="#5e1160" stroke-width="1.5"/>
<line x1="532.5" y1="706.1" x2="532.5" y2="714.1" stroke="#5e1160" stroke-width="1.1"/>
<line x1="519.3" y1="706.1" x2="545.7" y2="706.1" stroke="#5e1160" stroke-width="1.5"/>
<line x1="519.3" y1="714.1" x2="545.7" y2="714.1" stroke="#5e1160" stroke-width="1.5"/>
<line x1="561" y1="717.1" x2="561" y2="724.1" stroke="#5e1160" stroke-width="1.1"/>
<line x1="547.8" y1="717.1" x2="574.2" y2="717.1" stroke="#5e1160" stroke-width="1.5"/>
<line x1="547.8" y1="724.1" x2="574.2" y2="724.1" stroke="#5e1160" stroke-width="1.5"/>
<line x1="589.6" y1="712.1" x2="589.6" y2="719.5" stroke="#5e1160" stroke-width="1.1"/>
<line x1="576.4" y1="712.1" x2="602.8" y2="712.1" stroke="#5e1160" stroke-width="1.5"/>
<line x1="576.4" y1="719.5" x2="602.8" y2="719.5" stroke="#5e1160" stroke-width="1.5"/>
<line x1="618.9" y1="716.1" x2="618.9" y2="722.7" stroke="#5e1160" stroke-width="1.1"/>
<line x1="605.7" y1="716.1" x2="632.1" y2="716.1" stroke="#5e1160" stroke-width="1.5"/>
<line x1="605.7" y1="722.7" x2="632.1" y2="722.7" stroke="#5e1160" stroke-width="1.5"/>
<line x1="647.5" y1="726.1" x2="647.5" y2="731.7" stroke="#5e1160" stroke-width="1.1"/>
<line x1="634.3" y1="726.1" x2="660.7" y2="726.1" stroke="#5e1160" stroke-width="1.5"/>
<line x1="634.3" y1="731.7" x2="660.7" y2="731.7" stroke="#5e1160" stroke-width="1.5"/>
<circle cx="186.5" cy="979.6" r="4.6" fill="#6d1f6e" stroke="#000" stroke-width="1.4"/>
<circle cx="211.5" cy="976.6" r="4.6" fill="#6d1f6e" stroke="#000" stroke-width="1.4"/>
<circle cx="236.8" cy="973.3" r="4.6" fill="#6d1f6e" stroke="#000" stroke-width="1.4"/>
<circle cx="263.2" cy="979.6" r="4.6" fill="#6d1f6e" stroke="#000" stroke-width="1.4"/>
<circle cx="288.5" cy="987.2" r="4.6" fill="#6d1f6e" stroke="#000" stroke-width="1.4"/>
<circle cx="314.5" cy="979.2" r="4.6" fill="#6d1f6e" stroke="#000" stroke-width="1.4"/>
<circle cx="341" cy="967.1" r="4.6" fill="#6d1f6e" stroke="#000" stroke-width="1.4"/>
<circle cx="367.5" cy="954.1" r="4.6" fill="#6d1f6e" stroke="#000" stroke-width="1.4"/>
<circle cx="394.1" cy="902.7" r="4.6" fill="#6d1f6e" stroke="#000" stroke-width="1.4"/>
<circle cx="421.5" cy="766.8" r="4.6" fill="#6d1f6e" stroke="#000" stroke-width="1.4"/>
<circle cx="448.5" cy="723.7" r="4.6" fill="#6d1f6e" stroke="#000" stroke-width="1.4"/>
<circle cx="476.2" cy="723.7" r="4.6" fill="#6d1f6e" stroke="#000" stroke-width="1.4"/>
<circle cx="504" cy="716.1" r="4.6" fill="#6d1f6e" stroke="#000" stroke-width="1.4"/>
<circle cx="532.5" cy="710.1" r="4.6" fill="#6d1f6e" stroke="#000" stroke-width="1.4"/>
<circle cx="561" cy="720.9" r="4.6" fill="#6d1f6e" stroke="#000" stroke-width="1.4"/>
<circle cx="589.6" cy="716.3" r="4.6" fill="#6d1f6e" stroke="#000" stroke-width="1.4"/>
<circle cx="618.9" cy="719.1" r="4.6" fill="#6d1f6e" stroke="#000" stroke-width="1.4"/>
<circle cx="647.5" cy="728.9" r="4.6" fill="#6d1f6e" stroke="#000" stroke-width="1.4"/>
<path d="M185.7,992.6 L212.3,993.2 L237.8,995.8 L290.1,1001.2 L316.4,1006.2 L342.8,1013.6 L369.7,1025.3 L396.7,1043.4 L424.2,1050.4 L451.8,1036.4 L479.7,978.2 L507.9,892.1 L536.3,818.3 L565.4,775.8 L594.2,754.1 L624.1,743.1 L653.7,736.5" fill="none" stroke="#3b5aab" stroke-width="3.2"/>
<line x1="187.1" y1="1004.2" x2="187.1" y2="1012.2" stroke="#2f50a8" stroke-width="1.1"/>
<line x1="173.9" y1="1004.2" x2="200.3" y2="1004.2" stroke="#2f50a8" stroke-width="1.5"/>
<line x1="173.9" y1="1012.2" x2="200.3" y2="1012.2" stroke="#2f50a8" stroke-width="1.5"/>
<line x1="212.3" y1="991.2" x2="212.3" y2="998.4" stroke="#2f50a8" stroke-width="1.1"/>
<line x1="199.1" y1="991.2" x2="225.5" y2="991.2" stroke="#2f50a8" stroke-width="1.5"/>
<line x1="199.1" y1="998.4" x2="225.5" y2="998.4" stroke="#2f50a8" stroke-width="1.5"/>
<line x1="237.8" y1="996.2" x2="237.8" y2="1003.6" stroke="#2f50a8" stroke-width="1.1"/>
<line x1="224.6" y1="996.2" x2="251" y2="996.2" stroke="#2f50a8" stroke-width="1.5"/>
<line x1="224.6" y1="1003.6" x2="251" y2="1003.6" stroke="#2f50a8" stroke-width="1.5"/>
<line x1="263.8" y1="976.6" x2="263.8" y2="988.2" stroke="#2f50a8" stroke-width="1.1"/>
<line x1="250.6" y1="976.6" x2="277" y2="976.6" stroke="#2f50a8" stroke-width="1.5"/>
<line x1="250.6" y1="988.2" x2="277" y2="988.2" stroke="#2f50a8" stroke-width="1.5"/>
<line x1="290.1" y1="994.8" x2="290.1" y2="1006.2" stroke="#2f50a8" stroke-width="1.1"/>
<line x1="276.9" y1="994.8" x2="303.3" y2="994.8" stroke="#2f50a8" stroke-width="1.5"/>
<line x1="276.9" y1="1006.2" x2="303.3" y2="1006.2" stroke="#2f50a8" stroke-width="1.5"/>
<line x1="316.4" y1="1000.8" x2="316.4" y2="1010.6" stroke="#2f50a8" stroke-width="1.1"/>
<line x1="303.2" y1="1000.8" x2="329.6" y2="1000.8" stroke="#2f50a8" stroke-width="1.5"/>
<line x1="303.2" y1="1010.6" x2="329.6" y2="1010.6" stroke="#2f50a8" stroke-width="1.5"/>
<line x1="342.8" y1="1008.2" x2="342.8" y2="1019" stroke="#2f50a8" stroke-width="1.1"/>
<line x1="329.6" y1="1008.2" x2="356" y2="1008.2" stroke="#2f50a8" stroke-width="1.5"/>
<line x1="329.6" y1="1019" x2="356" y2="1019" stroke="#2f50a8" stroke-width="1.5"/>
<line x1="369.7" y1="1021.4" x2="369.7" y2="1030.2" stroke="#2f50a8" stroke-width="1.1"/>
<line x1="356.5" y1="1021.4" x2="382.9" y2="1021.4" stroke="#2f50a8" stroke-width="1.5"/>
<line x1="356.5" y1="1030.2" x2="382.9" y2="1030.2" stroke="#2f50a8" stroke-width="1.5"/>
<line x1="396.7" y1="1041.7" x2="396.7" y2="1048.3" stroke="#2f50a8" stroke-width="1.1"/>
<line x1="383.5" y1="1041.7" x2="409.9" y2="1041.7" stroke="#2f50a8" stroke-width="1.5"/>
<line x1="383.5" y1="1048.3" x2="409.9" y2="1048.3" stroke="#2f50a8" stroke-width="1.5"/>
<line x1="424.2" y1="1049.4" x2="424.2" y2="1057.8" stroke="#2f50a8" stroke-width="1.1"/>
<line x1="411" y1="1049.4" x2="437.4" y2="1049.4" stroke="#2f50a8" stroke-width="1.5"/>
<line x1="411" y1="1057.8" x2="437.4" y2="1057.8" stroke="#2f50a8" stroke-width="1.5"/>
<line x1="451.8" y1="1018.3" x2="451.8" y2="1032.7" stroke="#2f50a8" stroke-width="1.1"/>
<line x1="438.6" y1="1018.3" x2="465" y2="1018.3" stroke="#2f50a8" stroke-width="1.5"/>
<line x1="438.6" y1="1032.7" x2="465" y2="1032.7" stroke="#2f50a8" stroke-width="1.5"/>
<line x1="479.7" y1="958.4" x2="479.7" y2="978.6" stroke="#2f50a8" stroke-width="1.1"/>
<line x1="466.5" y1="958.4" x2="492.9" y2="958.4" stroke="#2f50a8" stroke-width="1.5"/>
<line x1="466.5" y1="978.6" x2="492.9" y2="978.6" stroke="#2f50a8" stroke-width="1.5"/>
<line x1="507.9" y1="879" x2="507.9" y2="896.5" stroke="#2f50a8" stroke-width="1.1"/>
<line x1="494.7" y1="879" x2="521.1" y2="879" stroke="#2f50a8" stroke-width="1.5"/>
<line x1="494.7" y1="896.5" x2="521.1" y2="896.5" stroke="#2f50a8" stroke-width="1.5"/>
<line x1="536.3" y1="819.7" x2="536.3" y2="826.9" stroke="#2f50a8" stroke-width="1.1"/>
<line x1="523.1" y1="819.7" x2="549.5" y2="819.7" stroke="#2f50a8" stroke-width="1.5"/>
<line x1="523.1" y1="826.9" x2="549.5" y2="826.9" stroke="#2f50a8" stroke-width="1.5"/>
<line x1="565.4" y1="778.8" x2="565.4" y2="785.6" stroke="#2f50a8" stroke-width="1.1"/>
<line x1="552.2" y1="778.8" x2="578.6" y2="778.8" stroke="#2f50a8" stroke-width="1.5"/>
<line x1="552.2" y1="785.6" x2="578.6" y2="785.6" stroke="#2f50a8" stroke-width="1.5"/>
<line x1="594.2" y1="752.5" x2="594.2" y2="759.2" stroke="#2f50a8" stroke-width="1.1"/>
<line x1="581" y1="752.5" x2="607.4" y2="752.5" stroke="#2f50a8" stroke-width="1.5"/>
<line x1="581" y1="759.2" x2="607.4" y2="759.2" stroke="#2f50a8" stroke-width="1.5"/>
<line x1="624.1" y1="724.5" x2="624.1" y2="731.5" stroke="#2f50a8" stroke-width="1.1"/>
<line x1="610.9" y1="724.5" x2="637.3" y2="724.5" stroke="#2f50a8" stroke-width="1.5"/>
<line x1="610.9" y1="731.5" x2="637.3" y2="731.5" stroke="#2f50a8" stroke-width="1.5"/>
<line x1="653.7" y1="725.7" x2="653.7" y2="732.5" stroke="#2f50a8" stroke-width="1.1"/>
<line x1="640.5" y1="725.7" x2="666.9" y2="725.7" stroke="#2f50a8" stroke-width="1.5"/>
<line x1="640.5" y1="732.5" x2="666.9" y2="732.5" stroke="#2f50a8" stroke-width="1.5"/>
<rect x="182.55" y="1004.05" width="9.1" height="9.1" fill="#3b5aab" stroke="#000" stroke-width="1.7" stroke-linejoin="miter"/>
<rect x="207.75" y="990.25" width="9.1" height="9.1" fill="#3b5aab" stroke="#000" stroke-width="1.7" stroke-linejoin="miter"/>
<rect x="233.25" y="995.25" width="9.1" height="9.1" fill="#3b5aab" stroke="#000" stroke-width="1.7" stroke-linejoin="miter"/>
<rect x="259.25" y="977.85" width="9.1" height="9.1" fill="#3b5aab" stroke="#000" stroke-width="1.7" stroke-linejoin="miter"/>
<rect x="285.55" y="996.25" width="9.1" height="9.1" fill="#3b5aab" stroke="#000" stroke-width="1.7" stroke-linejoin="miter"/>
<rect x="311.85" y="1001.25" width="9.1" height="9.1" fill="#3b5aab" stroke="#000" stroke-width="1.7" stroke-linejoin="miter"/>
<rect x="338.25" y="1009.05" width="9.1" height="9.1" fill="#3b5aab" stroke="#000" stroke-width="1.7" stroke-linejoin="miter"/>
<rect x="365.15" y="1021.45" width="9.1" height="9.1" fill="#3b5aab" stroke="#000" stroke-width="1.7" stroke-linejoin="miter"/>
<rect x="392.15" y="1040.15" width="9.1" height="9.1" fill="#3b5aab" stroke="#000" stroke-width="1.7" stroke-linejoin="miter"/>
<rect x="419.65" y="1048.65" width="9.1" height="9.1" fill="#3b5aab" stroke="#000" stroke-width="1.7" stroke-linejoin="miter"/>
<rect x="447.25" y="1020.95" width="9.1" height="9.1" fill="#3b5aab" stroke="#000" stroke-width="1.7" stroke-linejoin="miter"/>
<rect x="475.15" y="963.85" width="9.1" height="9.1" fill="#3b5aab" stroke="#000" stroke-width="1.7" stroke-linejoin="miter"/>
<rect x="503.35" y="883.15" width="9.1" height="9.1" fill="#3b5aab" stroke="#000" stroke-width="1.7" stroke-linejoin="miter"/>
<rect x="531.75" y="818.95" width="9.1" height="9.1" fill="#3b5aab" stroke="#000" stroke-width="1.7" stroke-linejoin="miter"/>
<rect x="560.85" y="777.85" width="9.1" height="9.1" fill="#3b5aab" stroke="#000" stroke-width="1.7" stroke-linejoin="miter"/>
<rect x="589.65" y="751.45" width="9.1" height="9.1" fill="#3b5aab" stroke="#000" stroke-width="1.7" stroke-linejoin="miter"/>
<rect x="619.55" y="723.55" width="9.1" height="9.1" fill="#3b5aab" stroke="#000" stroke-width="1.7" stroke-linejoin="miter"/>
<rect x="649.15" y="724.75" width="9.1" height="9.1" fill="#3b5aab" stroke="#000" stroke-width="1.7" stroke-linejoin="miter"/>
<path d="M186.4,1114.7 L236.5,1100.7 L288,1135.8 L341.1,1101.9 L367.2,1100.3 L394.2,1126.8 L421.3,1102.5 L448.9,1102.5 L476.4,1123 L532.1,1100.7 L560.6,1126.8 L589.2,1117.1 L618.3,1124.8 L648.7,1147.6" fill="none" stroke="#6d1f6e" stroke-width="1.4"/>
<path d="M186.4,1154.8 L212.2,1121.2 L237.5,1129 L263.9,1083.5 L290,1118 L342,1117.4 L369.2,1117.6 L396.2,1125.4 L423.3,1121.6 L451.3,1090.7 L479.4,1089.9 L508.5,1106.9 L536.5,1129.6 L565.2,1132.2 L594.2,1121.6 L623.9,1083.1 L653.5,1101.1" fill="none" stroke="#3b5aab" stroke-width="1.4"/>
</g>
<line x1="929.2" y1="688.7" x2="1467.85" y2="688.7" stroke="#000" stroke-width="1.6"/>
<line x1="929.2" y1="1161.4" x2="1467.85" y2="1161.4" stroke="#000" stroke-width="1.6"/>
<line x1="930.15" y1="687.9" x2="930.15" y2="1162.2" stroke="#000" stroke-width="1.9"/>
<line x1="1466.9" y1="687.9" x2="1466.9" y2="1162.2" stroke="#000" stroke-width="1.9"/>
<line x1="930.15" y1="1107.2" x2="1466.9" y2="1107.2" stroke="#c0c0c0" stroke-width="1.3"/>
<line x1="930.15" y1="1075.3" x2="1466.9" y2="1075.3" stroke="#000" stroke-width="1.6"/>
<line x1="949.4" y1="688.7" x2="949.4" y2="697.9" stroke="#000" stroke-width="2.3"/>
<line x1="949.4" y1="1066.1" x2="949.4" y2="1084.5" stroke="#000" stroke-width="2.3"/>
<line x1="949.4" y1="1161.4" x2="949.4" y2="1152.2" stroke="#000" stroke-width="2.3"/>
<line x1="1067.5" y1="688.7" x2="1067.5" y2="697.9" stroke="#000" stroke-width="2.3"/>
<line x1="1067.5" y1="1066.1" x2="1067.5" y2="1084.5" stroke="#000" stroke-width="2.3"/>
<line x1="1067.5" y1="1161.4" x2="1067.5" y2="1152.2" stroke="#000" stroke-width="2.3"/>
<line x1="1185.5" y1="688.7" x2="1185.5" y2="697.9" stroke="#000" stroke-width="2.3"/>
<line x1="1185.5" y1="1066.1" x2="1185.5" y2="1084.5" stroke="#000" stroke-width="2.3"/>
<line x1="1185.5" y1="1161.4" x2="1185.5" y2="1152.2" stroke="#000" stroke-width="2.3"/>
<line x1="1303.3" y1="688.7" x2="1303.3" y2="697.9" stroke="#000" stroke-width="2.3"/>
<line x1="1303.3" y1="1066.1" x2="1303.3" y2="1084.5" stroke="#000" stroke-width="2.3"/>
<line x1="1303.3" y1="1161.4" x2="1303.3" y2="1152.2" stroke="#000" stroke-width="2.3"/>
<line x1="1421.9" y1="688.7" x2="1421.9" y2="697.9" stroke="#000" stroke-width="2.3"/>
<line x1="1421.9" y1="1066.1" x2="1421.9" y2="1084.5" stroke="#000" stroke-width="2.3"/>
<line x1="1421.9" y1="1161.4" x2="1421.9" y2="1152.2" stroke="#000" stroke-width="2.3"/>
<line x1="930.15" y1="746.8" x2="939.35" y2="746.8" stroke="#000" stroke-width="2.2"/>
<line x1="1466.9" y1="746.8" x2="1457.7" y2="746.8" stroke="#000" stroke-width="2.2"/>
<line x1="930.15" y1="810.1" x2="939.35" y2="810.1" stroke="#000" stroke-width="2.2"/>
<line x1="1466.9" y1="810.1" x2="1457.7" y2="810.1" stroke="#000" stroke-width="2.2"/>
<line x1="930.15" y1="873.4" x2="939.35" y2="873.4" stroke="#000" stroke-width="2.2"/>
<line x1="1466.9" y1="873.4" x2="1457.7" y2="873.4" stroke="#000" stroke-width="2.2"/>
<line x1="930.15" y1="937.3" x2="939.35" y2="937.3" stroke="#000" stroke-width="2.2"/>
<line x1="1466.9" y1="937.3" x2="1457.7" y2="937.3" stroke="#000" stroke-width="2.2"/>
<line x1="930.15" y1="1000.3" x2="939.35" y2="1000.3" stroke="#000" stroke-width="2.2"/>
<line x1="1466.9" y1="1000.3" x2="1457.7" y2="1000.3" stroke="#000" stroke-width="2.2"/>
<line x1="930.15" y1="1064" x2="939.35" y2="1064" stroke="#000" stroke-width="2.2"/>
<line x1="1466.9" y1="1064" x2="1457.7" y2="1064" stroke="#000" stroke-width="2.2"/>
<line x1="930.15" y1="1079.3" x2="939.35" y2="1079.3" stroke="#000" stroke-width="2.2"/>
<line x1="1466.9" y1="1079.3" x2="1457.7" y2="1079.3" stroke="#000" stroke-width="2.2"/>
<line x1="930.15" y1="1119.2" x2="939.35" y2="1119.2" stroke="#000" stroke-width="2.2"/>
<line x1="1466.9" y1="1119.2" x2="1457.7" y2="1119.2" stroke="#000" stroke-width="2.2"/>
<line x1="930.15" y1="1158" x2="939.35" y2="1158" stroke="#000" stroke-width="2.2"/>
<line x1="1466.9" y1="1158" x2="1457.7" y2="1158" stroke="#000" stroke-width="2.2"/>
<text transform="translate(895.17,748.9) scale(1,1.03)" font-size="30.6" stroke="#000">-2</text>
<text transform="translate(894.78,811.9) scale(1,1.03)" font-size="30.6" stroke="#000">-4</text>
<text transform="translate(895.14,876.1) scale(1,1.03)" font-size="30.6" stroke="#000">-6</text>
<text transform="translate(895.14,939) scale(1,1.03)" font-size="30.6" stroke="#000">-8</text>
<text transform="translate(877.73,1003) scale(1,1.03)" font-size="30.6" stroke="#000">-10</text>
<text transform="translate(858.94,1086) scale(1,1.03)" font-size="30.6" stroke="#000">0.41</text>
<text transform="translate(852.94,1124.3) scale(1,1.03)" font-size="30.6" stroke="#000">-0.17</text>
<text transform="translate(852.25,1162.7) scale(1,1.03)" font-size="30.6" stroke="#000">-0.74</text>
<text transform="translate(922.19,1189.8) scale(1,1.03)" font-size="30.6" stroke="#000">0.0</text>
<text transform="translate(1043.63,1189.8) scale(1,1.03)" font-size="30.6" stroke="#000">0.5</text>
<text transform="translate(1163.16,1189.8) scale(1,1.03)" font-size="30.6" stroke="#000">1.0</text>
<text transform="translate(1288.45,1189.8) scale(1,1.03)" font-size="30.6" stroke="#000">1.5</text>
<text transform="translate(1406.74,1189.8) scale(1,1.03)" font-size="30.6" stroke="#000">2.0</text>
<text transform="translate(1072.26,1240.5) scale(1,1)" font-size="30.78" stroke="#000">Molar Ratio</text>
<text transform="translate(821.5,1009.61) rotate(-90) scale(1,1.03)" font-size="36.51" stroke="#000">Heat of Injection</text>
<text transform="translate(865,955.67) rotate(-90) scale(1,1.03)" font-size="36.25" stroke="#000">(kcal/mol)</text>
<text transform="translate(846.1,1225.72) rotate(-90) scale(1,1.03)" font-size="36.63" stroke="#000">Residuals</text>
<text transform="translate(1284.52,1023.4) scale(1,1.01)" font-size="24.59" fill="#7f1d75" stroke="#7f1d75">0 µM TGM1-D3</text>
<text transform="translate(1284.27,1053.6) scale(1,1.01)" font-size="24.63" fill="#263890" stroke="#263890">6 µM TGM1-D3</text>
<g stroke-linejoin="round">
<path d="M976.7,1026.7 L1000.1,1025.3 L1023.2,1021.8 L1047,1018.8 L1071.1,1015.2 L1095.3,1009.2 L1119.4,998.2 L1144,975.2 L1169.1,932.1 L1194.2,862.4 L1219.4,798.2 L1244.9,756.2 L1270.7,732.5 L1297.2,719.1 L1323.6,712.1 L1350.3,709.1 L1377.6,707.5 L1406.4,706.1" fill="none" stroke="#6d1f6e" stroke-width="3.2"/>
<line x1="976.7" y1="1016.2" x2="976.7" y2="1047.3" stroke="#5e1160" stroke-width="1.1"/>
<line x1="963.5" y1="1016.2" x2="989.9" y2="1016.2" stroke="#5e1160" stroke-width="1.5"/>
<line x1="963.5" y1="1047.3" x2="989.9" y2="1047.3" stroke="#5e1160" stroke-width="1.5"/>
<line x1="1000.1" y1="1022.2" x2="1000.1" y2="1030.3" stroke="#5e1160" stroke-width="1.1"/>
<line x1="986.9" y1="1022.2" x2="1013.3" y2="1022.2" stroke="#5e1160" stroke-width="1.5"/>
<line x1="986.9" y1="1030.3" x2="1013.3" y2="1030.3" stroke="#5e1160" stroke-width="1.5"/>
<line x1="1023.2" y1="1015.2" x2="1023.2" y2="1023.2" stroke="#5e1160" stroke-width="1.1"/>
<line x1="1010" y1="1015.2" x2="1036.4" y2="1015.2" stroke="#5e1160" stroke-width="1.5"/>
<line x1="1010" y1="1023.2" x2="1036.4" y2="1023.2" stroke="#5e1160" stroke-width="1.5"/>
<line x1="1047" y1="1011.6" x2="1047" y2="1019.2" stroke="#5e1160" stroke-width="1.1"/>
<line x1="1033.8" y1="1011.6" x2="1060.2" y2="1011.6" stroke="#5e1160" stroke-width="1.5"/>
<line x1="1033.8" y1="1019.2" x2="1060.2" y2="1019.2" stroke="#5e1160" stroke-width="1.5"/>
<line x1="1071.1" y1="1003.6" x2="1071.1" y2="1013.2" stroke="#5e1160" stroke-width="1.1"/>
<line x1="1057.9" y1="1003.6" x2="1084.3" y2="1003.6" stroke="#5e1160" stroke-width="1.5"/>
<line x1="1057.9" y1="1013.2" x2="1084.3" y2="1013.2" stroke="#5e1160" stroke-width="1.5"/>
<line x1="1095.3" y1="996.2" x2="1095.3" y2="1009.2" stroke="#5e1160" stroke-width="1.1"/>
<line x1="1082.1" y1="996.2" x2="1108.5" y2="996.2" stroke="#5e1160" stroke-width="1.5"/>
<line x1="1082.1" y1="1009.2" x2="1108.5" y2="1009.2" stroke="#5e1160" stroke-width="1.5"/>
<line x1="1119.4" y1="999.8" x2="1119.4" y2="1009.4" stroke="#5e1160" stroke-width="1.1"/>
<line x1="1106.2" y1="999.8" x2="1132.6" y2="999.8" stroke="#5e1160" stroke-width="1.5"/>
<line x1="1106.2" y1="1009.4" x2="1132.6" y2="1009.4" stroke="#5e1160" stroke-width="1.5"/>
<line x1="1144" y1="979.4" x2="1144" y2="989.2" stroke="#5e1160" stroke-width="1.1"/>
<line x1="1130.8" y1="979.4" x2="1157.2" y2="979.4" stroke="#5e1160" stroke-width="1.5"/>
<line x1="1130.8" y1="989.2" x2="1157.2" y2="989.2" stroke="#5e1160" stroke-width="1.5"/>
<line x1="1169.1" y1="921.6" x2="1169.1" y2="936.5" stroke="#5e1160" stroke-width="1.1"/>
<line x1="1155.9" y1="921.6" x2="1182.3" y2="921.6" stroke="#5e1160" stroke-width="1.5"/>
<line x1="1155.9" y1="936.5" x2="1182.3" y2="936.5" stroke="#5e1160" stroke-width="1.5"/>
<line x1="1194.2" y1="847.9" x2="1194.2" y2="859.9" stroke="#5e1160" stroke-width="1.1"/>
<line x1="1181" y1="847.9" x2="1207.4" y2="847.9" stroke="#5e1160" stroke-width="1.5"/>
<line x1="1181" y1="859.9" x2="1207.4" y2="859.9" stroke="#5e1160" stroke-width="1.5"/>
<line x1="1219.4" y1="802.2" x2="1219.4" y2="815.3" stroke="#5e1160" stroke-width="1.1"/>
<line x1="1206.2" y1="802.2" x2="1232.6" y2="802.2" stroke="#5e1160" stroke-width="1.5"/>
<line x1="1206.2" y1="815.3" x2="1232.6" y2="815.3" stroke="#5e1160" stroke-width="1.5"/>
<line x1="1244.9" y1="752.3" x2="1244.9" y2="761.4" stroke="#5e1160" stroke-width="1.1"/>
<line x1="1231.7" y1="752.3" x2="1258.1" y2="752.3" stroke="#5e1160" stroke-width="1.5"/>
<line x1="1231.7" y1="761.4" x2="1258.1" y2="761.4" stroke="#5e1160" stroke-width="1.5"/>
<line x1="1270.7" y1="727.5" x2="1270.7" y2="736.9" stroke="#5e1160" stroke-width="1.1"/>
<line x1="1257.5" y1="727.5" x2="1283.9" y2="727.5" stroke="#5e1160" stroke-width="1.5"/>
<line x1="1257.5" y1="736.9" x2="1283.9" y2="736.9" stroke="#5e1160" stroke-width="1.5"/>
<line x1="1297.2" y1="716.1" x2="1297.2" y2="724.1" stroke="#5e1160" stroke-width="1.1"/>
<line x1="1284" y1="716.1" x2="1310.4" y2="716.1" stroke="#5e1160" stroke-width="1.5"/>
<line x1="1284" y1="724.1" x2="1310.4" y2="724.1" stroke="#5e1160" stroke-width="1.5"/>
<line x1="1323.6" y1="706.1" x2="1323.6" y2="715.1" stroke="#5e1160" stroke-width="1.1"/>
<line x1="1310.4" y1="706.1" x2="1336.8" y2="706.1" stroke="#5e1160" stroke-width="1.5"/>
<line x1="1310.4" y1="715.1" x2="1336.8" y2="715.1" stroke="#5e1160" stroke-width="1.5"/>
<line x1="1350.3" y1="705.7" x2="1350.3" y2="713.1" stroke="#5e1160" stroke-width="1.1"/>
<line x1="1337.1" y1="705.7" x2="1363.5" y2="705.7" stroke="#5e1160" stroke-width="1.5"/>
<line x1="1337.1" y1="713.1" x2="1363.5" y2="713.1" stroke="#5e1160" stroke-width="1.5"/>
<line x1="1377.6" y1="709.1" x2="1377.6" y2="716.1" stroke="#5e1160" stroke-width="1.1"/>
<line x1="1364.4" y1="709.1" x2="1390.8" y2="709.1" stroke="#5e1160" stroke-width="1.5"/>
<line x1="1364.4" y1="716.1" x2="1390.8" y2="716.1" stroke="#5e1160" stroke-width="1.5"/>
<line x1="1405" y1="712.1" x2="1405" y2="719.3" stroke="#5e1160" stroke-width="1.1"/>
<line x1="1391.8" y1="712.1" x2="1418.2" y2="712.1" stroke="#5e1160" stroke-width="1.5"/>
<line x1="1391.8" y1="719.3" x2="1418.2" y2="719.3" stroke="#5e1160" stroke-width="1.5"/>
<circle cx="976.7" cy="1032.3" r="4.6" fill="#6d1f6e" stroke="#000" stroke-width="1.4"/>
<circle cx="1000.1" cy="1025.9" r="4.6" fill="#6d1f6e" stroke="#000" stroke-width="1.4"/>
<circle cx="1023.2" cy="1018.8" r="4.6" fill="#6d1f6e" stroke="#000" stroke-width="1.4"/>
<circle cx="1047" cy="1015.2" r="4.6" fill="#6d1f6e" stroke="#000" stroke-width="1.4"/>
<circle cx="1071.1" cy="1008.4" r="4.6" fill="#6d1f6e" stroke="#000" stroke-width="1.4"/>
<circle cx="1095.3" cy="1002.6" r="4.6" fill="#6d1f6e" stroke="#000" stroke-width="1.4"/>
<circle cx="1119.4" cy="1004.6" r="4.6" fill="#6d1f6e" stroke="#000" stroke-width="1.4"/>
<circle cx="1144" cy="984.6" r="4.6" fill="#6d1f6e" stroke="#000" stroke-width="1.4"/>
<circle cx="1169.1" cy="929.3" r="4.6" fill="#6d1f6e" stroke="#000" stroke-width="1.4"/>
<circle cx="1194.2" cy="853.9" r="4.6" fill="#6d1f6e" stroke="#000" stroke-width="1.4"/>
<circle cx="1219.4" cy="808.9" r="4.6" fill="#6d1f6e" stroke="#000" stroke-width="1.4"/>
<circle cx="1244.9" cy="757.2" r="4.6" fill="#6d1f6e" stroke="#000" stroke-width="1.4"/>
<circle cx="1270.7" cy="732.3" r="4.6" fill="#6d1f6e" stroke="#000" stroke-width="1.4"/>
<circle cx="1297.2" cy="720.1" r="4.6" fill="#6d1f6e" stroke="#000" stroke-width="1.4"/>
<circle cx="1323.6" cy="710.9" r="4.6" fill="#6d1f6e" stroke="#000" stroke-width="1.4"/>
<circle cx="1350.3" cy="709.5" r="4.6" fill="#6d1f6e" stroke="#000" stroke-width="1.4"/>
<circle cx="1377.6" cy="712.7" r="4.6" fill="#6d1f6e" stroke="#000" stroke-width="1.4"/>
<circle cx="1405" cy="715.7" r="4.6" fill="#6d1f6e" stroke="#000" stroke-width="1.4"/>
<path d="M978.1,1029.3 L1004.1,1026.7 L1030,1023.2 L1055.6,1020.2 L1081.3,1015.2 L1107.9,1008.2 L1134,999.8 L1160.8,988.2 L1187.5,971.1 L1215,947.1 L1242.5,914 L1270.3,874 L1298.4,832.3 L1326.9,794.2 L1355.5,766.2 L1385,748.1 L1414.2,738.5 L1445.1,731.5" fill="none" stroke="#3b5aab" stroke-width="3.2"/>
<line x1="979.3" y1="1044.5" x2="979.3" y2="1057.9" stroke="#2f50a8" stroke-width="1.1"/>
<line x1="966.1" y1="1044.5" x2="992.5" y2="1044.5" stroke="#2f50a8" stroke-width="1.5"/>
<line x1="966.1" y1="1057.9" x2="992.5" y2="1057.9" stroke="#2f50a8" stroke-width="1.5"/>
<line x1="1004.1" y1="1029" x2="1004.1" y2="1036.1" stroke="#2f50a8" stroke-width="1.1"/>
<line x1="990.9" y1="1029" x2="1017.3" y2="1029" stroke="#2f50a8" stroke-width="1.5"/>
<line x1="990.9" y1="1036.1" x2="1017.3" y2="1036.1" stroke="#2f50a8" stroke-width="1.5"/>
<line x1="1030" y1="1018.8" x2="1030" y2="1025.6" stroke="#2f50a8" stroke-width="1.1"/>
<line x1="1016.8" y1="1018.8" x2="1043.2" y2="1018.8" stroke="#2f50a8" stroke-width="1.5"/>
<line x1="1016.8" y1="1025.6" x2="1043.2" y2="1025.6" stroke="#2f50a8" stroke-width="1.5"/>
<line x1="1055.6" y1="1016" x2="1055.6" y2="1023.2" stroke="#2f50a8" stroke-width="1.1"/>
<line x1="1042.4" y1="1016" x2="1068.8" y2="1016" stroke="#2f50a8" stroke-width="1.5"/>
<line x1="1042.4" y1="1023.2" x2="1068.8" y2="1023.2" stroke="#2f50a8" stroke-width="1.5"/>
<line x1="1081.3" y1="1015.6" x2="1081.3" y2="1023.6" stroke="#2f50a8" stroke-width="1.1"/>
<line x1="1068.1" y1="1015.6" x2="1094.5" y2="1015.6" stroke="#2f50a8" stroke-width="1.5"/>
<line x1="1068.1" y1="1023.6" x2="1094.5" y2="1023.6" stroke="#2f50a8" stroke-width="1.5"/>
<line x1="1107.9" y1="1000.2" x2="1107.9" y2="1009.8" stroke="#2f50a8" stroke-width="1.1"/>
<line x1="1094.7" y1="1000.2" x2="1121.1" y2="1000.2" stroke="#2f50a8" stroke-width="1.5"/>
<line x1="1094.7" y1="1009.8" x2="1121.1" y2="1009.8" stroke="#2f50a8" stroke-width="1.5"/>
<line x1="1134" y1="994.2" x2="1134" y2="1002.6" stroke="#2f50a8" stroke-width="1.1"/>
<line x1="1120.8" y1="994.2" x2="1147.2" y2="994.2" stroke="#2f50a8" stroke-width="1.5"/>
<line x1="1120.8" y1="1002.6" x2="1147.2" y2="1002.6" stroke="#2f50a8" stroke-width="1.5"/>
<line x1="1160.8" y1="981.2" x2="1160.8" y2="994.2" stroke="#2f50a8" stroke-width="1.1"/>
<line x1="1147.6" y1="981.2" x2="1174" y2="981.2" stroke="#2f50a8" stroke-width="1.5"/>
<line x1="1147.6" y1="994.2" x2="1174" y2="994.2" stroke="#2f50a8" stroke-width="1.5"/>
<line x1="1187.5" y1="969.3" x2="1187.5" y2="983.8" stroke="#2f50a8" stroke-width="1.1"/>
<line x1="1174.3" y1="969.3" x2="1200.7" y2="969.3" stroke="#2f50a8" stroke-width="1.5"/>
<line x1="1174.3" y1="983.8" x2="1200.7" y2="983.8" stroke="#2f50a8" stroke-width="1.5"/>
<line x1="1215" y1="945.1" x2="1215" y2="953.3" stroke="#2f50a8" stroke-width="1.1"/>
<line x1="1201.8" y1="945.1" x2="1228.2" y2="945.1" stroke="#2f50a8" stroke-width="1.5"/>
<line x1="1201.8" y1="953.3" x2="1228.2" y2="953.3" stroke="#2f50a8" stroke-width="1.5"/>
<line x1="1242.5" y1="909.5" x2="1242.5" y2="919.5" stroke="#2f50a8" stroke-width="1.1"/>
<line x1="1229.3" y1="909.5" x2="1255.7" y2="909.5" stroke="#2f50a8" stroke-width="1.5"/>
<line x1="1229.3" y1="919.5" x2="1255.7" y2="919.5" stroke="#2f50a8" stroke-width="1.5"/>
<line x1="1270.3" y1="869.6" x2="1270.3" y2="878" stroke="#2f50a8" stroke-width="1.1"/>
<line x1="1257.1" y1="869.6" x2="1283.5" y2="869.6" stroke="#2f50a8" stroke-width="1.5"/>
<line x1="1257.1" y1="878" x2="1283.5" y2="878" stroke="#2f50a8" stroke-width="1.5"/>
<line x1="1298.4" y1="830.3" x2="1298.4" y2="837.3" stroke="#2f50a8" stroke-width="1.1"/>
<line x1="1285.2" y1="830.3" x2="1311.6" y2="830.3" stroke="#2f50a8" stroke-width="1.5"/>
<line x1="1285.2" y1="837.3" x2="1311.6" y2="837.3" stroke="#2f50a8" stroke-width="1.5"/>
<line x1="1326.9" y1="791.2" x2="1326.9" y2="799.2" stroke="#2f50a8" stroke-width="1.1"/>
<line x1="1313.7" y1="791.2" x2="1340.1" y2="791.2" stroke="#2f50a8" stroke-width="1.5"/>
<line x1="1313.7" y1="799.2" x2="1340.1" y2="799.2" stroke="#2f50a8" stroke-width="1.5"/>
<line x1="1355.5" y1="761.8" x2="1355.5" y2="770.2" stroke="#2f50a8" stroke-width="1.1"/>
<line x1="1342.3" y1="761.8" x2="1368.7" y2="761.8" stroke="#2f50a8" stroke-width="1.5"/>
<line x1="1342.3" y1="770.2" x2="1368.7" y2="770.2" stroke="#2f50a8" stroke-width="1.5"/>
<line x1="1385" y1="736.5" x2="1385" y2="749.7" stroke="#2f50a8" stroke-width="1.1"/>
<line x1="1371.8" y1="736.5" x2="1398.2" y2="736.5" stroke="#2f50a8" stroke-width="1.5"/>
<line x1="1371.8" y1="749.7" x2="1398.2" y2="749.7" stroke="#2f50a8" stroke-width="1.5"/>
<line x1="1414.2" y1="724.7" x2="1414.2" y2="740.7" stroke="#2f50a8" stroke-width="1.1"/>
<line x1="1401" y1="724.7" x2="1427.4" y2="724.7" stroke="#2f50a8" stroke-width="1.5"/>
<line x1="1401" y1="740.7" x2="1427.4" y2="740.7" stroke="#2f50a8" stroke-width="1.5"/>
<line x1="1443.9" y1="714.9" x2="1443.9" y2="727.3" stroke="#2f50a8" stroke-width="1.1"/>
<line x1="1430.7" y1="714.9" x2="1457.1" y2="714.9" stroke="#2f50a8" stroke-width="1.5"/>
<line x1="1430.7" y1="727.3" x2="1457.1" y2="727.3" stroke="#2f50a8" stroke-width="1.5"/>
<rect x="974.75" y="1046.55" width="9.1" height="9.1" fill="#3b5aab" stroke="#000" stroke-width="1.7" stroke-linejoin="miter"/>
<rect x="999.55" y="1027.95" width="9.1" height="9.1" fill="#3b5aab" stroke="#000" stroke-width="1.7" stroke-linejoin="miter"/>
<rect x="1025.45" y="1017.45" width="9.1" height="9.1" fill="#3b5aab" stroke="#000" stroke-width="1.7" stroke-linejoin="miter"/>
<rect x="1051.05" y="1015.25" width="9.1" height="9.1" fill="#3b5aab" stroke="#000" stroke-width="1.7" stroke-linejoin="miter"/>
<rect x="1076.75" y="1015.05" width="9.1" height="9.1" fill="#3b5aab" stroke="#000" stroke-width="1.7" stroke-linejoin="miter"/>
<rect x="1103.35" y="1000.45" width="9.1" height="9.1" fill="#3b5aab" stroke="#000" stroke-width="1.7" stroke-linejoin="miter"/>
<rect x="1129.45" y="994.05" width="9.1" height="9.1" fill="#3b5aab" stroke="#000" stroke-width="1.7" stroke-linejoin="miter"/>
<rect x="1156.25" y="983.05" width="9.1" height="9.1" fill="#3b5aab" stroke="#000" stroke-width="1.7" stroke-linejoin="miter"/>
<rect x="1182.95" y="972.25" width="9.1" height="9.1" fill="#3b5aab" stroke="#000" stroke-width="1.7" stroke-linejoin="miter"/>
<rect x="1210.45" y="944.75" width="9.1" height="9.1" fill="#3b5aab" stroke="#000" stroke-width="1.7" stroke-linejoin="miter"/>
<rect x="1237.95" y="909.95" width="9.1" height="9.1" fill="#3b5aab" stroke="#000" stroke-width="1.7" stroke-linejoin="miter"/>
<rect x="1265.75" y="869.45" width="9.1" height="9.1" fill="#3b5aab" stroke="#000" stroke-width="1.7" stroke-linejoin="miter"/>
<rect x="1293.85" y="829.55" width="9.1" height="9.1" fill="#3b5aab" stroke="#000" stroke-width="1.7" stroke-linejoin="miter"/>
<rect x="1322.35" y="790.65" width="9.1" height="9.1" fill="#3b5aab" stroke="#000" stroke-width="1.7" stroke-linejoin="miter"/>
<rect x="1350.95" y="761.45" width="9.1" height="9.1" fill="#3b5aab" stroke="#000" stroke-width="1.7" stroke-linejoin="miter"/>
<rect x="1380.45" y="738.55" width="9.1" height="9.1" fill="#3b5aab" stroke="#000" stroke-width="1.7" stroke-linejoin="miter"/>
<rect x="1409.65" y="728.35" width="9.1" height="9.1" fill="#3b5aab" stroke="#000" stroke-width="1.7" stroke-linejoin="miter"/>
<rect x="1439.35" y="716.55" width="9.1" height="9.1" fill="#3b5aab" stroke="#000" stroke-width="1.7" stroke-linejoin="miter"/>
<path d="M976.4,1120.8 L1000.4,1110.7 L1023.5,1098.1 L1047.5,1095.5 L1070.6,1089.5 L1095.1,1091.1 L1119.6,1121.8 L1143.8,1126.2 L1168.3,1100.7 L1193.7,1082.7 L1219.4,1130.8 L1244.4,1111.7 L1270.5,1105.7 L1297.5,1104.7 L1323.3,1098.5 L1350.3,1103.7 L1377.4,1116.7 L1405.4,1127.2" fill="none" stroke="#6d1f6e" stroke-width="1.4"/>
<path d="M979,1154.6 L1004,1118.8 L1029.1,1102.5 L1056.3,1104.7 L1081.5,1114.1 L1107.5,1097.1 L1134.2,1101.1 L1160.8,1103.1 L1187.7,1115.7 L1214.3,1107.1 L1242.4,1104.1 L1270.5,1104.7 L1299.3,1113.1 L1327,1111.1 L1355.3,1103.7 L1384.8,1091.9 L1414.4,1094.1 L1444.5,1084.5" fill="none" stroke="#3b5aab" stroke-width="1.4"/>
</g>
</svg>
</body>
</html>
